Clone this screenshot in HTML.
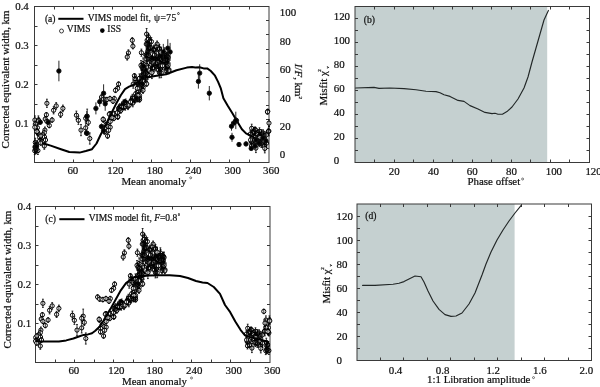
<!DOCTYPE html>
<html><head><meta charset="utf-8"><title>figure</title>
<style>
html,body{margin:0;padding:0;background:#fff;}
svg{display:block;font-family:"Liberation Serif",serif;fill:#111;}
svg text{fill:#111;stroke:#111;stroke-width:0.22px;}
svg{will-change:transform;transform:translateZ(0);}
</style></head><body>
<svg width="600" height="387" viewBox="0 0 600 387">
<rect width="600" height="387" fill="#fff"/>
<rect x="355.0" y="6.5" width="192.2" height="156.0" fill="#c5d0d0"/>
<rect x="357.0" y="204.0" width="157.6" height="156.5" fill="#c5d0d0"/>
<rect x="34.5" y="6.5" width="234.5" height="156.0" fill="none" stroke="#3a3a3a" stroke-width="1"/>
<line x1="54.50" y1="159.50" x2="54.50" y2="162.50" stroke="#3a3a3a" stroke-width="1"/>
<line x1="54.50" y1="6.50" x2="54.50" y2="9.50" stroke="#3a3a3a" stroke-width="1"/>
<line x1="73.50" y1="159.50" x2="73.50" y2="162.50" stroke="#3a3a3a" stroke-width="1"/>
<line x1="73.50" y1="6.50" x2="73.50" y2="9.50" stroke="#3a3a3a" stroke-width="1"/>
<line x1="93.50" y1="159.50" x2="93.50" y2="162.50" stroke="#3a3a3a" stroke-width="1"/>
<line x1="93.50" y1="6.50" x2="93.50" y2="9.50" stroke="#3a3a3a" stroke-width="1"/>
<line x1="112.50" y1="159.50" x2="112.50" y2="162.50" stroke="#3a3a3a" stroke-width="1"/>
<line x1="112.50" y1="6.50" x2="112.50" y2="9.50" stroke="#3a3a3a" stroke-width="1"/>
<line x1="132.50" y1="159.50" x2="132.50" y2="162.50" stroke="#3a3a3a" stroke-width="1"/>
<line x1="132.50" y1="6.50" x2="132.50" y2="9.50" stroke="#3a3a3a" stroke-width="1"/>
<line x1="151.50" y1="159.50" x2="151.50" y2="162.50" stroke="#3a3a3a" stroke-width="1"/>
<line x1="151.50" y1="6.50" x2="151.50" y2="9.50" stroke="#3a3a3a" stroke-width="1"/>
<line x1="171.50" y1="159.50" x2="171.50" y2="162.50" stroke="#3a3a3a" stroke-width="1"/>
<line x1="171.50" y1="6.50" x2="171.50" y2="9.50" stroke="#3a3a3a" stroke-width="1"/>
<line x1="190.50" y1="159.50" x2="190.50" y2="162.50" stroke="#3a3a3a" stroke-width="1"/>
<line x1="190.50" y1="6.50" x2="190.50" y2="9.50" stroke="#3a3a3a" stroke-width="1"/>
<line x1="210.50" y1="159.50" x2="210.50" y2="162.50" stroke="#3a3a3a" stroke-width="1"/>
<line x1="210.50" y1="6.50" x2="210.50" y2="9.50" stroke="#3a3a3a" stroke-width="1"/>
<line x1="229.50" y1="159.50" x2="229.50" y2="162.50" stroke="#3a3a3a" stroke-width="1"/>
<line x1="229.50" y1="6.50" x2="229.50" y2="9.50" stroke="#3a3a3a" stroke-width="1"/>
<line x1="249.50" y1="159.50" x2="249.50" y2="162.50" stroke="#3a3a3a" stroke-width="1"/>
<line x1="249.50" y1="6.50" x2="249.50" y2="9.50" stroke="#3a3a3a" stroke-width="1"/>
<line x1="34.50" y1="26.50" x2="37.50" y2="26.50" stroke="#3a3a3a" stroke-width="1"/>
<line x1="34.50" y1="45.50" x2="37.50" y2="45.50" stroke="#3a3a3a" stroke-width="1"/>
<line x1="34.50" y1="65.50" x2="37.50" y2="65.50" stroke="#3a3a3a" stroke-width="1"/>
<line x1="34.50" y1="84.50" x2="37.50" y2="84.50" stroke="#3a3a3a" stroke-width="1"/>
<line x1="34.50" y1="104.50" x2="37.50" y2="104.50" stroke="#3a3a3a" stroke-width="1"/>
<line x1="34.50" y1="123.50" x2="37.50" y2="123.50" stroke="#3a3a3a" stroke-width="1"/>
<line x1="34.50" y1="143.50" x2="37.50" y2="143.50" stroke="#3a3a3a" stroke-width="1"/>
<line x1="266.00" y1="20.50" x2="269.00" y2="20.50" stroke="#3a3a3a" stroke-width="1"/>
<line x1="266.00" y1="34.50" x2="269.00" y2="34.50" stroke="#3a3a3a" stroke-width="1"/>
<line x1="266.00" y1="49.50" x2="269.00" y2="49.50" stroke="#3a3a3a" stroke-width="1"/>
<line x1="266.00" y1="63.50" x2="269.00" y2="63.50" stroke="#3a3a3a" stroke-width="1"/>
<line x1="266.00" y1="77.50" x2="269.00" y2="77.50" stroke="#3a3a3a" stroke-width="1"/>
<line x1="266.00" y1="91.50" x2="269.00" y2="91.50" stroke="#3a3a3a" stroke-width="1"/>
<line x1="266.00" y1="105.50" x2="269.00" y2="105.50" stroke="#3a3a3a" stroke-width="1"/>
<line x1="266.00" y1="119.50" x2="269.00" y2="119.50" stroke="#3a3a3a" stroke-width="1"/>
<line x1="266.00" y1="134.50" x2="269.00" y2="134.50" stroke="#3a3a3a" stroke-width="1"/>
<line x1="266.00" y1="148.50" x2="269.00" y2="148.50" stroke="#3a3a3a" stroke-width="1"/>
<rect x="35.5" y="206.5" width="234.5" height="156.0" fill="none" stroke="#3a3a3a" stroke-width="1"/>
<line x1="55.50" y1="359.50" x2="55.50" y2="362.50" stroke="#3a3a3a" stroke-width="1"/>
<line x1="55.50" y1="206.50" x2="55.50" y2="209.50" stroke="#3a3a3a" stroke-width="1"/>
<line x1="74.50" y1="359.50" x2="74.50" y2="362.50" stroke="#3a3a3a" stroke-width="1"/>
<line x1="74.50" y1="206.50" x2="74.50" y2="209.50" stroke="#3a3a3a" stroke-width="1"/>
<line x1="94.50" y1="359.50" x2="94.50" y2="362.50" stroke="#3a3a3a" stroke-width="1"/>
<line x1="94.50" y1="206.50" x2="94.50" y2="209.50" stroke="#3a3a3a" stroke-width="1"/>
<line x1="113.50" y1="359.50" x2="113.50" y2="362.50" stroke="#3a3a3a" stroke-width="1"/>
<line x1="113.50" y1="206.50" x2="113.50" y2="209.50" stroke="#3a3a3a" stroke-width="1"/>
<line x1="133.50" y1="359.50" x2="133.50" y2="362.50" stroke="#3a3a3a" stroke-width="1"/>
<line x1="133.50" y1="206.50" x2="133.50" y2="209.50" stroke="#3a3a3a" stroke-width="1"/>
<line x1="152.50" y1="359.50" x2="152.50" y2="362.50" stroke="#3a3a3a" stroke-width="1"/>
<line x1="152.50" y1="206.50" x2="152.50" y2="209.50" stroke="#3a3a3a" stroke-width="1"/>
<line x1="172.50" y1="359.50" x2="172.50" y2="362.50" stroke="#3a3a3a" stroke-width="1"/>
<line x1="172.50" y1="206.50" x2="172.50" y2="209.50" stroke="#3a3a3a" stroke-width="1"/>
<line x1="191.50" y1="359.50" x2="191.50" y2="362.50" stroke="#3a3a3a" stroke-width="1"/>
<line x1="191.50" y1="206.50" x2="191.50" y2="209.50" stroke="#3a3a3a" stroke-width="1"/>
<line x1="211.50" y1="359.50" x2="211.50" y2="362.50" stroke="#3a3a3a" stroke-width="1"/>
<line x1="211.50" y1="206.50" x2="211.50" y2="209.50" stroke="#3a3a3a" stroke-width="1"/>
<line x1="230.50" y1="359.50" x2="230.50" y2="362.50" stroke="#3a3a3a" stroke-width="1"/>
<line x1="230.50" y1="206.50" x2="230.50" y2="209.50" stroke="#3a3a3a" stroke-width="1"/>
<line x1="250.50" y1="359.50" x2="250.50" y2="362.50" stroke="#3a3a3a" stroke-width="1"/>
<line x1="250.50" y1="206.50" x2="250.50" y2="209.50" stroke="#3a3a3a" stroke-width="1"/>
<line x1="35.50" y1="226.50" x2="38.50" y2="226.50" stroke="#3a3a3a" stroke-width="1"/>
<line x1="267.00" y1="226.50" x2="270.00" y2="226.50" stroke="#3a3a3a" stroke-width="1"/>
<line x1="35.50" y1="245.50" x2="38.50" y2="245.50" stroke="#3a3a3a" stroke-width="1"/>
<line x1="267.00" y1="245.50" x2="270.00" y2="245.50" stroke="#3a3a3a" stroke-width="1"/>
<line x1="35.50" y1="265.50" x2="38.50" y2="265.50" stroke="#3a3a3a" stroke-width="1"/>
<line x1="267.00" y1="265.50" x2="270.00" y2="265.50" stroke="#3a3a3a" stroke-width="1"/>
<line x1="35.50" y1="284.50" x2="38.50" y2="284.50" stroke="#3a3a3a" stroke-width="1"/>
<line x1="267.00" y1="284.50" x2="270.00" y2="284.50" stroke="#3a3a3a" stroke-width="1"/>
<line x1="35.50" y1="304.50" x2="38.50" y2="304.50" stroke="#3a3a3a" stroke-width="1"/>
<line x1="267.00" y1="304.50" x2="270.00" y2="304.50" stroke="#3a3a3a" stroke-width="1"/>
<line x1="35.50" y1="323.50" x2="38.50" y2="323.50" stroke="#3a3a3a" stroke-width="1"/>
<line x1="267.00" y1="323.50" x2="270.00" y2="323.50" stroke="#3a3a3a" stroke-width="1"/>
<line x1="35.50" y1="343.50" x2="38.50" y2="343.50" stroke="#3a3a3a" stroke-width="1"/>
<line x1="267.00" y1="343.50" x2="270.00" y2="343.50" stroke="#3a3a3a" stroke-width="1"/>
<rect x="355.0" y="6.5" width="234.5" height="156.0" fill="none" stroke="#3a3a3a" stroke-width="1"/>
<line x1="374.50" y1="159.50" x2="374.50" y2="162.50" stroke="#3a3a3a" stroke-width="1"/>
<line x1="374.50" y1="6.50" x2="374.50" y2="9.50" stroke="#3a3a3a" stroke-width="1"/>
<line x1="394.50" y1="159.50" x2="394.50" y2="162.50" stroke="#3a3a3a" stroke-width="1"/>
<line x1="394.50" y1="6.50" x2="394.50" y2="9.50" stroke="#3a3a3a" stroke-width="1"/>
<line x1="413.50" y1="159.50" x2="413.50" y2="162.50" stroke="#3a3a3a" stroke-width="1"/>
<line x1="413.50" y1="6.50" x2="413.50" y2="9.50" stroke="#3a3a3a" stroke-width="1"/>
<line x1="433.50" y1="159.50" x2="433.50" y2="162.50" stroke="#3a3a3a" stroke-width="1"/>
<line x1="433.50" y1="6.50" x2="433.50" y2="9.50" stroke="#3a3a3a" stroke-width="1"/>
<line x1="452.50" y1="159.50" x2="452.50" y2="162.50" stroke="#3a3a3a" stroke-width="1"/>
<line x1="452.50" y1="6.50" x2="452.50" y2="9.50" stroke="#3a3a3a" stroke-width="1"/>
<line x1="472.50" y1="159.50" x2="472.50" y2="162.50" stroke="#3a3a3a" stroke-width="1"/>
<line x1="472.50" y1="6.50" x2="472.50" y2="9.50" stroke="#3a3a3a" stroke-width="1"/>
<line x1="491.50" y1="159.50" x2="491.50" y2="162.50" stroke="#3a3a3a" stroke-width="1"/>
<line x1="491.50" y1="6.50" x2="491.50" y2="9.50" stroke="#3a3a3a" stroke-width="1"/>
<line x1="511.50" y1="159.50" x2="511.50" y2="162.50" stroke="#3a3a3a" stroke-width="1"/>
<line x1="511.50" y1="6.50" x2="511.50" y2="9.50" stroke="#3a3a3a" stroke-width="1"/>
<line x1="530.50" y1="159.50" x2="530.50" y2="162.50" stroke="#3a3a3a" stroke-width="1"/>
<line x1="530.50" y1="6.50" x2="530.50" y2="9.50" stroke="#3a3a3a" stroke-width="1"/>
<line x1="550.50" y1="159.50" x2="550.50" y2="162.50" stroke="#3a3a3a" stroke-width="1"/>
<line x1="550.50" y1="6.50" x2="550.50" y2="9.50" stroke="#3a3a3a" stroke-width="1"/>
<line x1="569.50" y1="159.50" x2="569.50" y2="162.50" stroke="#3a3a3a" stroke-width="1"/>
<line x1="569.50" y1="6.50" x2="569.50" y2="9.50" stroke="#3a3a3a" stroke-width="1"/>
<line x1="355.00" y1="150.50" x2="358.00" y2="150.50" stroke="#3a3a3a" stroke-width="1"/>
<line x1="586.50" y1="150.50" x2="589.50" y2="150.50" stroke="#3a3a3a" stroke-width="1"/>
<line x1="355.00" y1="138.50" x2="358.00" y2="138.50" stroke="#3a3a3a" stroke-width="1"/>
<line x1="586.50" y1="138.50" x2="589.50" y2="138.50" stroke="#3a3a3a" stroke-width="1"/>
<line x1="355.00" y1="126.50" x2="358.00" y2="126.50" stroke="#3a3a3a" stroke-width="1"/>
<line x1="586.50" y1="126.50" x2="589.50" y2="126.50" stroke="#3a3a3a" stroke-width="1"/>
<line x1="355.00" y1="114.50" x2="358.00" y2="114.50" stroke="#3a3a3a" stroke-width="1"/>
<line x1="586.50" y1="114.50" x2="589.50" y2="114.50" stroke="#3a3a3a" stroke-width="1"/>
<line x1="355.00" y1="102.50" x2="358.00" y2="102.50" stroke="#3a3a3a" stroke-width="1"/>
<line x1="586.50" y1="102.50" x2="589.50" y2="102.50" stroke="#3a3a3a" stroke-width="1"/>
<line x1="355.00" y1="90.50" x2="358.00" y2="90.50" stroke="#3a3a3a" stroke-width="1"/>
<line x1="586.50" y1="90.50" x2="589.50" y2="90.50" stroke="#3a3a3a" stroke-width="1"/>
<line x1="355.00" y1="78.50" x2="358.00" y2="78.50" stroke="#3a3a3a" stroke-width="1"/>
<line x1="586.50" y1="78.50" x2="589.50" y2="78.50" stroke="#3a3a3a" stroke-width="1"/>
<line x1="355.00" y1="66.50" x2="358.00" y2="66.50" stroke="#3a3a3a" stroke-width="1"/>
<line x1="586.50" y1="66.50" x2="589.50" y2="66.50" stroke="#3a3a3a" stroke-width="1"/>
<line x1="355.00" y1="54.50" x2="358.00" y2="54.50" stroke="#3a3a3a" stroke-width="1"/>
<line x1="586.50" y1="54.50" x2="589.50" y2="54.50" stroke="#3a3a3a" stroke-width="1"/>
<line x1="355.00" y1="42.50" x2="358.00" y2="42.50" stroke="#3a3a3a" stroke-width="1"/>
<line x1="586.50" y1="42.50" x2="589.50" y2="42.50" stroke="#3a3a3a" stroke-width="1"/>
<line x1="355.00" y1="30.50" x2="358.00" y2="30.50" stroke="#3a3a3a" stroke-width="1"/>
<line x1="586.50" y1="30.50" x2="589.50" y2="30.50" stroke="#3a3a3a" stroke-width="1"/>
<line x1="355.00" y1="18.50" x2="358.00" y2="18.50" stroke="#3a3a3a" stroke-width="1"/>
<line x1="586.50" y1="18.50" x2="589.50" y2="18.50" stroke="#3a3a3a" stroke-width="1"/>
<rect x="357.0" y="204.0" width="234.5" height="156.5" fill="none" stroke="#3a3a3a" stroke-width="1"/>
<line x1="380.50" y1="357.50" x2="380.50" y2="360.50" stroke="#3a3a3a" stroke-width="1"/>
<line x1="380.50" y1="204.00" x2="380.50" y2="207.00" stroke="#3a3a3a" stroke-width="1"/>
<line x1="403.50" y1="357.50" x2="403.50" y2="360.50" stroke="#3a3a3a" stroke-width="1"/>
<line x1="403.50" y1="204.00" x2="403.50" y2="207.00" stroke="#3a3a3a" stroke-width="1"/>
<line x1="427.50" y1="357.50" x2="427.50" y2="360.50" stroke="#3a3a3a" stroke-width="1"/>
<line x1="427.50" y1="204.00" x2="427.50" y2="207.00" stroke="#3a3a3a" stroke-width="1"/>
<line x1="450.50" y1="357.50" x2="450.50" y2="360.50" stroke="#3a3a3a" stroke-width="1"/>
<line x1="450.50" y1="204.00" x2="450.50" y2="207.00" stroke="#3a3a3a" stroke-width="1"/>
<line x1="474.50" y1="357.50" x2="474.50" y2="360.50" stroke="#3a3a3a" stroke-width="1"/>
<line x1="474.50" y1="204.00" x2="474.50" y2="207.00" stroke="#3a3a3a" stroke-width="1"/>
<line x1="497.50" y1="357.50" x2="497.50" y2="360.50" stroke="#3a3a3a" stroke-width="1"/>
<line x1="497.50" y1="204.00" x2="497.50" y2="207.00" stroke="#3a3a3a" stroke-width="1"/>
<line x1="521.50" y1="357.50" x2="521.50" y2="360.50" stroke="#3a3a3a" stroke-width="1"/>
<line x1="521.50" y1="204.00" x2="521.50" y2="207.00" stroke="#3a3a3a" stroke-width="1"/>
<line x1="544.50" y1="357.50" x2="544.50" y2="360.50" stroke="#3a3a3a" stroke-width="1"/>
<line x1="544.50" y1="204.00" x2="544.50" y2="207.00" stroke="#3a3a3a" stroke-width="1"/>
<line x1="568.50" y1="357.50" x2="568.50" y2="360.50" stroke="#3a3a3a" stroke-width="1"/>
<line x1="568.50" y1="204.00" x2="568.50" y2="207.00" stroke="#3a3a3a" stroke-width="1"/>
<line x1="357.00" y1="348.50" x2="360.00" y2="348.50" stroke="#3a3a3a" stroke-width="1"/>
<line x1="588.50" y1="348.50" x2="591.50" y2="348.50" stroke="#3a3a3a" stroke-width="1"/>
<line x1="357.00" y1="336.50" x2="360.00" y2="336.50" stroke="#3a3a3a" stroke-width="1"/>
<line x1="588.50" y1="336.50" x2="591.50" y2="336.50" stroke="#3a3a3a" stroke-width="1"/>
<line x1="357.00" y1="324.50" x2="360.00" y2="324.50" stroke="#3a3a3a" stroke-width="1"/>
<line x1="588.50" y1="324.50" x2="591.50" y2="324.50" stroke="#3a3a3a" stroke-width="1"/>
<line x1="357.00" y1="312.50" x2="360.00" y2="312.50" stroke="#3a3a3a" stroke-width="1"/>
<line x1="588.50" y1="312.50" x2="591.50" y2="312.50" stroke="#3a3a3a" stroke-width="1"/>
<line x1="357.00" y1="300.50" x2="360.00" y2="300.50" stroke="#3a3a3a" stroke-width="1"/>
<line x1="588.50" y1="300.50" x2="591.50" y2="300.50" stroke="#3a3a3a" stroke-width="1"/>
<line x1="357.00" y1="288.50" x2="360.00" y2="288.50" stroke="#3a3a3a" stroke-width="1"/>
<line x1="588.50" y1="288.50" x2="591.50" y2="288.50" stroke="#3a3a3a" stroke-width="1"/>
<line x1="357.00" y1="276.50" x2="360.00" y2="276.50" stroke="#3a3a3a" stroke-width="1"/>
<line x1="588.50" y1="276.50" x2="591.50" y2="276.50" stroke="#3a3a3a" stroke-width="1"/>
<line x1="357.00" y1="264.50" x2="360.00" y2="264.50" stroke="#3a3a3a" stroke-width="1"/>
<line x1="588.50" y1="264.50" x2="591.50" y2="264.50" stroke="#3a3a3a" stroke-width="1"/>
<line x1="357.00" y1="252.50" x2="360.00" y2="252.50" stroke="#3a3a3a" stroke-width="1"/>
<line x1="588.50" y1="252.50" x2="591.50" y2="252.50" stroke="#3a3a3a" stroke-width="1"/>
<line x1="357.00" y1="240.50" x2="360.00" y2="240.50" stroke="#3a3a3a" stroke-width="1"/>
<line x1="588.50" y1="240.50" x2="591.50" y2="240.50" stroke="#3a3a3a" stroke-width="1"/>
<line x1="357.00" y1="228.50" x2="360.00" y2="228.50" stroke="#3a3a3a" stroke-width="1"/>
<line x1="588.50" y1="228.50" x2="591.50" y2="228.50" stroke="#3a3a3a" stroke-width="1"/>
<line x1="357.00" y1="216.50" x2="360.00" y2="216.50" stroke="#3a3a3a" stroke-width="1"/>
<line x1="588.50" y1="216.50" x2="591.50" y2="216.50" stroke="#3a3a3a" stroke-width="1"/>
<text x="15.20" y="9.75" font-size="10.9" text-anchor="start" >0.4</text>
<text x="15.20" y="48.75" font-size="10.9" text-anchor="start" >0.3</text>
<text x="15.20" y="87.75" font-size="10.9" text-anchor="start" >0.2</text>
<text x="15.20" y="126.85" font-size="10.9" text-anchor="start" >0.1</text>
<text x="17.60" y="209.85" font-size="10.9" text-anchor="start" >0.4</text>
<text x="17.60" y="248.85" font-size="10.9" text-anchor="start" >0.3</text>
<text x="17.60" y="287.85" font-size="10.9" text-anchor="start" >0.2</text>
<text x="17.60" y="326.85" font-size="10.9" text-anchor="start" >0.1</text>
<text x="279.80" y="15.95" font-size="10.9" text-anchor="start" >100</text>
<text x="279.80" y="44.65" font-size="10.9" text-anchor="start" >80</text>
<text x="279.80" y="73.15" font-size="10.9" text-anchor="start" >60</text>
<text x="279.80" y="101.55" font-size="10.9" text-anchor="start" >40</text>
<text x="279.80" y="129.85" font-size="10.9" text-anchor="start" >20</text>
<text x="279.80" y="158.15" font-size="10.9" text-anchor="start" >0</text>
<text x="67.40" y="174.30" font-size="10.9" text-anchor="start" >60</text>
<text x="107.20" y="174.30" font-size="10.9" text-anchor="start" >120</text>
<text x="146.70" y="174.30" font-size="10.9" text-anchor="start" >180</text>
<text x="185.20" y="174.30" font-size="10.9" text-anchor="start" >240</text>
<text x="224.50" y="174.30" font-size="10.9" text-anchor="start" >300</text>
<text x="263.00" y="174.30" font-size="10.9" text-anchor="start" >360</text>
<text x="68.40" y="374.30" font-size="10.9" text-anchor="start" >60</text>
<text x="108.20" y="374.30" font-size="10.9" text-anchor="start" >120</text>
<text x="146.60" y="374.30" font-size="10.9" text-anchor="start" >180</text>
<text x="186.00" y="374.30" font-size="10.9" text-anchor="start" >240</text>
<text x="225.50" y="374.30" font-size="10.9" text-anchor="start" >300</text>
<text x="264.20" y="374.30" font-size="10.9" text-anchor="start" >360</text>
<text x="333.70" y="163.75" font-size="10.9" text-anchor="start" >0</text>
<text x="333.70" y="139.79" font-size="10.9" text-anchor="start" >20</text>
<text x="333.70" y="115.83" font-size="10.9" text-anchor="start" >40</text>
<text x="333.70" y="91.87" font-size="10.9" text-anchor="start" >60</text>
<text x="333.70" y="67.91" font-size="10.9" text-anchor="start" >80</text>
<text x="333.70" y="43.95" font-size="10.9" text-anchor="start" >100</text>
<text x="333.70" y="19.99" font-size="10.9" text-anchor="start" >120</text>
<text x="336.60" y="363.65" font-size="10.9" text-anchor="start" >0</text>
<text x="336.60" y="339.65" font-size="10.9" text-anchor="start" >20</text>
<text x="336.60" y="315.65" font-size="10.9" text-anchor="start" >40</text>
<text x="336.60" y="291.65" font-size="10.9" text-anchor="start" >60</text>
<text x="336.60" y="267.65" font-size="10.9" text-anchor="start" >80</text>
<text x="336.60" y="243.65" font-size="10.9" text-anchor="start" >100</text>
<text x="336.60" y="219.65" font-size="10.9" text-anchor="start" >120</text>
<text x="388.80" y="174.60" font-size="10.9" text-anchor="start" >20</text>
<text x="428.00" y="174.60" font-size="10.9" text-anchor="start" >40</text>
<text x="466.80" y="174.60" font-size="10.9" text-anchor="start" >60</text>
<text x="506.00" y="174.60" font-size="10.9" text-anchor="start" >80</text>
<text x="545.70" y="174.60" font-size="10.9" text-anchor="start" >100</text>
<text x="585.40" y="174.60" font-size="10.9" text-anchor="start" >120</text>
<text x="388.70" y="373.60" font-size="10.9" text-anchor="start" >0.4</text>
<text x="435.80" y="373.60" font-size="10.9" text-anchor="start" >0.8</text>
<text x="486.40" y="373.60" font-size="10.9" text-anchor="start" >1.2</text>
<text x="533.00" y="373.60" font-size="10.9" text-anchor="start" >1.6</text>
<text x="579.60" y="373.60" font-size="10.9" text-anchor="start" >2.0</text>
<text x="121.40" y="184.50" font-size="10.9" text-anchor="start" >Mean anomaly</text>
<circle cx="190.7" cy="177.8" r="1.0" fill="none" stroke="#222" stroke-width="0.6"/>
<text x="122.00" y="384.70" font-size="10.9" text-anchor="start" >Mean anomaly</text>
<circle cx="191.5" cy="378" r="1.0" fill="none" stroke="#222" stroke-width="0.6"/>
<text x="467.50" y="185.40" font-size="10.9" text-anchor="start" >Phase offset</text>
<circle cx="522.6" cy="179" r="1.0" fill="none" stroke="#222" stroke-width="0.6"/>
<text x="427.00" y="383.30" font-size="10.9" text-anchor="start" >1:1 Libration amplitude</text>
<circle cx="533.5" cy="377.6" r="1.0" fill="none" stroke="#222" stroke-width="0.6"/>
<text transform="translate(9.0,148.4) rotate(-90)" font-size="10.9" >Corrected equivalent width, km</text>
<text transform="translate(10.9,348.6) rotate(-90)" font-size="10.9" >Corrected equivalent width, km</text>
<text transform="translate(326.7,105.4) rotate(-90)" font-size="10.9" >Misfit &#967;<tspan font-size="5" dy="-6" dx="-0.5">2</tspan><tspan font-size="5" dy="8" dx="0.8" font-style="italic">&#957;</tspan></text>
<text transform="translate(329.5,303.5) rotate(-90)" font-size="10.9" >Misfit &#967;<tspan font-size="5" dy="-6" dx="-0.5">2</tspan><tspan font-size="5" dy="8" dx="0.8" font-style="italic">&#957;</tspan></text>
<text transform="translate(294.8,63.8) rotate(90)" font-size="10.9"><tspan font-style="italic">I</tspan>/<tspan font-style="italic">F</tspan>, km<tspan font-size="5" dy="-4">2</tspan></text>
<text x="44.90" y="21.50" font-size="9.6" text-anchor="start" >(a)</text>
<line x1="58.30" y1="18.80" x2="83.50" y2="18.80" stroke="#000" stroke-width="2"/>
<text x="87.70" y="20.80" font-size="9.5" text-anchor="start" >VIMS model fit, <tspan dx="0.8" letter-spacing="0.5">&#968;=75</tspan><tspan font-size="6" dy="-3.5" dx="0.5">&#176;</tspan></text>
<circle cx="61.5" cy="31" r="2" fill="none" stroke="#111" stroke-width="0.8"/>
<text x="66.80" y="32.40" font-size="9.5" text-anchor="start" >VIMS</text>
<circle cx="102.3" cy="30.6" r="2.3" fill="#000"/>
<text x="107.30" y="32.40" font-size="9.5" text-anchor="start" >ISS</text>
<text x="45.20" y="221.80" font-size="9.6" text-anchor="start" >(c)</text>
<line x1="59.30" y1="219.20" x2="84.50" y2="219.20" stroke="#000" stroke-width="2"/>
<text x="88.70" y="221.00" font-size="9.5" text-anchor="start" >VIMS model fit, <tspan font-style="italic">F</tspan>=0.8<tspan font-size="6" dy="-3.5" dx="0.5">&#176;</tspan></text>
<text x="363.70" y="22.70" font-size="9.6" text-anchor="start" >(b)</text>
<text x="365.20" y="219.20" font-size="9.6" text-anchor="start" >(d)</text>
<path d="M355.6,88.0 L374.0,87.4 L379.0,88.4 L390.0,88.0 L404.0,88.6 L416.0,89.8 L426.0,91.2 L436.0,91.6 L440.0,92.8 L444.0,94.8 L450.0,96.4 L458.0,100.4 L464.0,101.4 L470.0,105.6 L478.0,109.0 L485.0,112.4 L492.0,113.6 L495.0,113.2 L498.0,114.2 L502.4,114.2 L507.0,111.6 L512.0,107.0 L518.0,99.0 L524.0,88.0 L528.0,77.0 L532.0,62.0 L536.0,48.0 L540.0,34.0 L544.0,20.0 L548.4,10.4" fill="none" stroke="#222727" stroke-width="1.15" stroke-linejoin="round" stroke-linecap="round"/>
<path d="M362.6,285.4 L375.0,285.4 L393.0,284.2 L399.0,283.2 L404.0,281.6 L410.0,278.4 L415.0,276.0 L421.0,276.8 L424.0,282.0 L428.0,291.0 L433.0,301.0 L439.0,309.4 L445.0,314.6 L451.0,316.4 L456.0,316.0 L462.0,313.0 L469.0,304.0 L475.0,293.0 L482.0,275.0 L486.0,264.0 L491.0,252.0 L497.0,240.0 L503.0,230.0 L509.0,221.0 L515.0,213.0 L521.0,205.6" fill="none" stroke="#222727" stroke-width="1.15" stroke-linejoin="round" stroke-linecap="round"/>
<g fill="#fff" stroke="#000" stroke-width="1">
<g transform="translate(42.9,303.3)"><circle r="2.1"/><path d="M0,-4.1V4.1M-0.9,-4.1H0.9M-0.9,4.1H0.9" stroke-width="0.8"/></g>
<g transform="translate(52.2,305.9)"><circle r="2.1"/><path d="M0,-3.3V3.3M-0.9,-3.3H0.9M-0.9,3.3H0.9" stroke-width="0.8"/></g>
<g transform="translate(49.6,310.3)"><circle r="2.1"/><path d="M0,-3.6V3.6M-0.9,-3.6H0.9M-0.9,3.6H0.9" stroke-width="0.8"/></g>
<g transform="translate(58.9,308.4)"><circle r="2.1"/><path d="M0,-3.3V3.3M-0.9,-3.3H0.9M-0.9,3.3H0.9" stroke-width="0.8"/></g>
<g transform="translate(56.6,314.4)"><circle r="2.1"/><path d="M0,-3.1V3.1M-0.9,-3.1H0.9M-0.9,3.1H0.9" stroke-width="0.8"/></g>
<g transform="translate(42.4,314.8)"><circle r="2.1"/><path d="M0,-2.3V2.3M-0.9,-2.3H0.9M-0.9,2.3H0.9" stroke-width="0.8"/></g>
<g transform="translate(41.2,319.0)"><circle r="2.1"/><path d="M0,-2.3V2.3M-0.9,-2.3H0.9M-0.9,2.3H0.9" stroke-width="0.8"/></g>
<g transform="translate(48.1,320.0)"><circle r="2.1"/><path d="M0,-2.3V2.3M-0.9,-2.3H0.9M-0.9,2.3H0.9" stroke-width="0.8"/></g>
<g transform="translate(42.9,321.4)"><circle r="2.1"/><path d="M0,-2.3V2.3M-0.9,-2.3H0.9M-0.9,2.3H0.9" stroke-width="0.8"/></g>
<g transform="translate(45.3,325.5)"><circle r="2.1"/><path d="M0,-2.3V2.3M-0.9,-2.3H0.9M-0.9,2.3H0.9" stroke-width="0.8"/></g>
<g transform="translate(40.9,330.1)"><circle r="2.1"/><path d="M0,-3.1V3.1M-0.9,-3.1H0.9M-0.9,3.1H0.9" stroke-width="0.8"/></g>
<g transform="translate(40.3,332.7)"><circle r="2.1"/><path d="M0,-2.6V2.6M-0.9,-2.6H0.9M-0.9,2.6H0.9" stroke-width="0.8"/></g>
<g transform="translate(38.8,334.9)"><circle r="2.1"/><path d="M0,-2.6V2.6M-0.9,-2.6H0.9M-0.9,2.6H0.9" stroke-width="0.8"/></g>
<g transform="translate(40.3,346.0)"><circle r="2.1"/><path d="M0,-3.3V3.3M-0.9,-3.3H0.9M-0.9,3.3H0.9" stroke-width="0.8"/></g>
<g transform="translate(35.7,337.5)"><circle r="2.1"/><path d="M0,-2.3V2.3M-0.9,-2.3H0.9M-0.9,2.3H0.9" stroke-width="0.8"/></g>
<g transform="translate(37.8,338.5)"><circle r="2.1"/><path d="M0,-2.3V2.3M-0.9,-2.3H0.9M-0.9,2.3H0.9" stroke-width="0.8"/></g>
<g transform="translate(36.2,340.6)"><circle r="2.1"/><path d="M0,-2.3V2.3M-0.9,-2.3H0.9M-0.9,2.3H0.9" stroke-width="0.8"/></g>
<g transform="translate(39.3,339.0)"><circle r="2.1"/><path d="M0,-2.3V2.3M-0.9,-2.3H0.9M-0.9,2.3H0.9" stroke-width="0.8"/></g>
<g transform="translate(35.6,341.1)"><circle r="2.1"/><path d="M0,-2.3V2.3M-0.9,-2.3H0.9M-0.9,2.3H0.9" stroke-width="0.8"/></g>
<g transform="translate(37.0,336.0)"><circle r="2.1"/><path d="M0,-2.3V2.3M-0.9,-2.3H0.9M-0.9,2.3H0.9" stroke-width="0.8"/></g>
<g transform="translate(38.5,341.5)"><circle r="2.1"/><path d="M0,-2.3V2.3M-0.9,-2.3H0.9M-0.9,2.3H0.9" stroke-width="0.8"/></g>
<g transform="translate(36.8,343.0)"><circle r="2.1"/><path d="M0,-2.3V2.3M-0.9,-2.3H0.9M-0.9,2.3H0.9" stroke-width="0.8"/></g>
<g transform="translate(40.5,337.0)"><circle r="2.1"/><path d="M0,-2.3V2.3M-0.9,-2.3H0.9M-0.9,2.3H0.9" stroke-width="0.8"/></g>
<g transform="translate(41.5,340.0)"><circle r="2.1"/><path d="M0,-2.3V2.3M-0.9,-2.3H0.9M-0.9,2.3H0.9" stroke-width="0.8"/></g>
<g transform="translate(72.4,315.2)"><circle r="2.1"/><path d="M0,-4.1V4.1M-0.9,-4.1H0.9M-0.9,4.1H0.9" stroke-width="0.8"/></g>
<g transform="translate(74.4,320.3)"><circle r="2.1"/><path d="M0,-4.1V4.1M-0.9,-4.1H0.9M-0.9,4.1H0.9" stroke-width="0.8"/></g>
<g transform="translate(83.2,316.2)"><circle r="2.1"/><path d="M0,-7.1V7.1M-0.9,-7.1H0.9M-0.9,7.1H0.9" stroke-width="0.8"/></g>
<g transform="translate(81.7,318.3)"><circle r="2.1"/><path d="M0,-3.1V3.1M-0.9,-3.1H0.9M-0.9,3.1H0.9" stroke-width="0.8"/></g>
<g transform="translate(84.3,322.4)"><circle r="2.1"/><path d="M0,-3.1V3.1M-0.9,-3.1H0.9M-0.9,3.1H0.9" stroke-width="0.8"/></g>
<g transform="translate(81.7,327.9)"><circle r="2.1"/><path d="M0,-5.1V5.1M-0.9,-5.1H0.9M-0.9,5.1H0.9" stroke-width="0.8"/></g>
<g transform="translate(77.0,330.1)"><circle r="2.1"/><path d="M0,-5.6V5.6M-0.9,-5.6H0.9M-0.9,5.6H0.9" stroke-width="0.8"/></g>
<g transform="translate(85.8,338.5)"><circle r="2.1"/><path d="M0,-5.6V5.6M-0.9,-5.6H0.9M-0.9,5.6H0.9" stroke-width="0.8"/></g>
<g transform="translate(97.6,297.0)"><circle r="2.1"/><path d="M0,-2.3V2.3M-0.9,-2.3H0.9M-0.9,2.3H0.9" stroke-width="0.8"/></g>
<g transform="translate(99.7,299.1)"><circle r="2.1"/><path d="M0,-2.3V2.3M-0.9,-2.3H0.9M-0.9,2.3H0.9" stroke-width="0.8"/></g>
<g transform="translate(102.8,299.6)"><circle r="2.1"/><path d="M0,-2.3V2.3M-0.9,-2.3H0.9M-0.9,2.3H0.9" stroke-width="0.8"/></g>
<g transform="translate(105.9,298.6)"><circle r="2.1"/><path d="M0,-2.3V2.3M-0.9,-2.3H0.9M-0.9,2.3H0.9" stroke-width="0.8"/></g>
<g transform="translate(110.3,298.6)"><circle r="2.1"/><path d="M0,-2.3V2.3M-0.9,-2.3H0.9M-0.9,2.3H0.9" stroke-width="0.8"/></g>
<g transform="translate(109.0,301.2)"><circle r="2.1"/><path d="M0,-2.3V2.3M-0.9,-2.3H0.9M-0.9,2.3H0.9" stroke-width="0.8"/></g>
<g transform="translate(114.6,284.1)"><circle r="2.1"/><path d="M0,-2.3V2.3M-0.9,-2.3H0.9M-0.9,2.3H0.9" stroke-width="0.8"/></g>
<g transform="translate(113.6,288.3)"><circle r="2.1"/><path d="M0,-2.3V2.3M-0.9,-2.3H0.9M-0.9,2.3H0.9" stroke-width="0.8"/></g>
<g transform="translate(111.5,290.3)"><circle r="2.1"/><path d="M0,-2.3V2.3M-0.9,-2.3H0.9M-0.9,2.3H0.9" stroke-width="0.8"/></g>
<g transform="translate(99.5,320.0)"><circle r="2.1"/><path d="M0,-2.3V2.3M-0.9,-2.3H0.9M-0.9,2.3H0.9" stroke-width="0.8"/></g>
<g transform="translate(106.2,313.8)"><circle r="2.1"/><path d="M0,-2.3V2.3M-0.9,-2.3H0.9M-0.9,2.3H0.9" stroke-width="0.8"/></g>
<g transform="translate(110.8,314.8)"><circle r="2.1"/><path d="M0,-2.3V2.3M-0.9,-2.3H0.9M-0.9,2.3H0.9" stroke-width="0.8"/></g>
<g transform="translate(113.9,316.9)"><circle r="2.1"/><path d="M0,-2.3V2.3M-0.9,-2.3H0.9M-0.9,2.3H0.9" stroke-width="0.8"/></g>
<g transform="translate(109.8,318.4)"><circle r="2.1"/><path d="M0,-2.3V2.3M-0.9,-2.3H0.9M-0.9,2.3H0.9" stroke-width="0.8"/></g>
<g transform="translate(106.2,321.5)"><circle r="2.1"/><path d="M0,-2.3V2.3M-0.9,-2.3H0.9M-0.9,2.3H0.9" stroke-width="0.8"/></g>
<g transform="translate(102.1,324.6)"><circle r="2.1"/><path d="M0,-2.3V2.3M-0.9,-2.3H0.9M-0.9,2.3H0.9" stroke-width="0.8"/></g>
<g transform="translate(104.1,326.7)"><circle r="2.1"/><path d="M0,-2.3V2.3M-0.9,-2.3H0.9M-0.9,2.3H0.9" stroke-width="0.8"/></g>
<g transform="translate(100.5,328.3)"><circle r="2.1"/><path d="M0,-2.3V2.3M-0.9,-2.3H0.9M-0.9,2.3H0.9" stroke-width="0.8"/></g>
<g transform="translate(106.2,327.2)"><circle r="2.1"/><path d="M0,-2.3V2.3M-0.9,-2.3H0.9M-0.9,2.3H0.9" stroke-width="0.8"/></g>
<g transform="translate(104.6,330.3)"><circle r="2.1"/><path d="M0,-2.3V2.3M-0.9,-2.3H0.9M-0.9,2.3H0.9" stroke-width="0.8"/></g>
<g transform="translate(100.5,331.9)"><circle r="2.1"/><path d="M0,-2.3V2.3M-0.9,-2.3H0.9M-0.9,2.3H0.9" stroke-width="0.8"/></g>
<g transform="translate(103.6,336.0)"><circle r="2.1"/><path d="M0,-2.3V2.3M-0.9,-2.3H0.9M-0.9,2.3H0.9" stroke-width="0.8"/></g>
<g transform="translate(105.3,314.1)"><circle r="2.1"/><path d="M0,-2.3V2.3M-0.9,-2.3H0.9M-0.9,2.3H0.9" stroke-width="0.8"/></g>
<g transform="translate(110.5,313.6)"><circle r="2.1"/><path d="M0,-2.3V2.3M-0.9,-2.3H0.9M-0.9,2.3H0.9" stroke-width="0.8"/></g>
<g transform="translate(113.6,316.7)"><circle r="2.1"/><path d="M0,-2.3V2.3M-0.9,-2.3H0.9M-0.9,2.3H0.9" stroke-width="0.8"/></g>
<g transform="translate(107.9,317.7)"><circle r="2.1"/><path d="M0,-2.3V2.3M-0.9,-2.3H0.9M-0.9,2.3H0.9" stroke-width="0.8"/></g>
<g transform="translate(99.1,319.3)"><circle r="2.1"/><path d="M0,-2.3V2.3M-0.9,-2.3H0.9M-0.9,2.3H0.9" stroke-width="0.8"/></g>
<g transform="translate(128.3,240.3)"><circle r="2.1"/><path d="M0,-2.7V2.7M-0.9,-2.7H0.9M-0.9,2.7H0.9" stroke-width="0.8"/></g>
<g transform="translate(128.9,246.2)"><circle r="2.1"/><path d="M0,-2.7V2.7M-0.9,-2.7H0.9M-0.9,2.7H0.9" stroke-width="0.8"/></g>
<g transform="translate(124.4,252.9)"><circle r="2.1"/><path d="M0,-3.1V3.1M-0.9,-3.1H0.9M-0.9,3.1H0.9" stroke-width="0.8"/></g>
<g transform="translate(123.2,257.0)"><circle r="2.1"/><path d="M0,-3.1V3.1M-0.9,-3.1H0.9M-0.9,3.1H0.9" stroke-width="0.8"/></g>
<g transform="translate(137.4,252.7)"><circle r="2.1"/><path d="M0,-3.6V3.6M-0.9,-3.6H0.9M-0.9,3.6H0.9" stroke-width="0.8"/></g>
<g transform="translate(130.4,275.8)"><circle r="2.1"/><path d="M0,-2.3V2.3M-0.9,-2.3H0.9M-0.9,2.3H0.9" stroke-width="0.8"/></g>
<g transform="translate(142.6,234.1)"><circle r="2.1"/><path d="M0,-5.6V5.6M-0.9,-5.6H0.9M-0.9,5.6H0.9" stroke-width="0.8"/></g>
<g transform="translate(144.4,236.9)"><circle r="2.1"/><path d="M0,-3.1V3.1M-0.9,-3.1H0.9M-0.9,3.1H0.9" stroke-width="0.8"/></g>
<g transform="translate(145.7,240.5)"><circle r="2.1"/><path d="M0,-3.1V3.1M-0.9,-3.1H0.9M-0.9,3.1H0.9" stroke-width="0.8"/></g>
<g transform="translate(142.3,244.1)"><circle r="2.1"/><path d="M0,-3.1V3.1M-0.9,-3.1H0.9M-0.9,3.1H0.9" stroke-width="0.8"/></g>
<g transform="translate(146.7,247.9)"><circle r="2.1"/><path d="M0,-3.1V3.1M-0.9,-3.1H0.9M-0.9,3.1H0.9" stroke-width="0.8"/></g>
<g transform="translate(141.8,255.0)"><circle r="2.1"/><path d="M0,-3.1V3.1M-0.9,-3.1H0.9M-0.9,3.1H0.9" stroke-width="0.8"/></g>
<g transform="translate(143.8,250.8)"><circle r="2.1"/><path d="M0,-3.1V3.1M-0.9,-3.1H0.9M-0.9,3.1H0.9" stroke-width="0.8"/></g>
<g transform="translate(153.1,244.1)"><circle r="2.1"/><path d="M0,-3.1V3.1M-0.9,-3.1H0.9M-0.9,3.1H0.9" stroke-width="0.8"/></g>
<g transform="translate(152.1,247.2)"><circle r="2.1"/><path d="M0,-3.1V3.1M-0.9,-3.1H0.9M-0.9,3.1H0.9" stroke-width="0.8"/></g>
<g transform="translate(155.2,248.8)"><circle r="2.1"/><path d="M0,-3.1V3.1M-0.9,-3.1H0.9M-0.9,3.1H0.9" stroke-width="0.8"/></g>
<g transform="translate(155.7,252.1)"><circle r="2.1"/><path d="M0,-3.1V3.1M-0.9,-3.1H0.9M-0.9,3.1H0.9" stroke-width="0.8"/></g>
<g transform="translate(160.4,252.9)"><circle r="2.1"/><path d="M0,-5.1V5.1M-0.9,-5.1H0.9M-0.9,5.1H0.9" stroke-width="0.8"/></g>
<g transform="translate(158.8,256.0)"><circle r="2.1"/><path d="M0,-3.1V3.1M-0.9,-3.1H0.9M-0.9,3.1H0.9" stroke-width="0.8"/></g>
<g transform="translate(163.0,255.8)"><circle r="2.1"/><path d="M0,-3.1V3.1M-0.9,-3.1H0.9M-0.9,3.1H0.9" stroke-width="0.8"/></g>
<g transform="translate(152.6,256.0)"><circle r="2.1"/><path d="M0,-3.1V3.1M-0.9,-3.1H0.9M-0.9,3.1H0.9" stroke-width="0.8"/></g>
<g transform="translate(156.8,259.6)"><circle r="2.1"/><path d="M0,-3.1V3.1M-0.9,-3.1H0.9M-0.9,3.1H0.9" stroke-width="0.8"/></g>
<g transform="translate(160.9,260.1)"><circle r="2.1"/><path d="M0,-3.1V3.1M-0.9,-3.1H0.9M-0.9,3.1H0.9" stroke-width="0.8"/></g>
<g transform="translate(163.5,266.5)"><circle r="2.1"/><path d="M0,-3.1V3.1M-0.9,-3.1H0.9M-0.9,3.1H0.9" stroke-width="0.8"/></g>
<g transform="translate(162.0,270.7)"><circle r="2.1"/><path d="M0,-3.1V3.1M-0.9,-3.1H0.9M-0.9,3.1H0.9" stroke-width="0.8"/></g>
<g transform="translate(263.8,311.4)"><circle r="2.1"/><path d="M0,-2.3V2.3M-0.9,-2.3H0.9M-0.9,2.3H0.9" stroke-width="0.8"/></g>
<g transform="translate(265.9,320.0)"><circle r="2.1"/><path d="M0,-4.1V4.1M-0.9,-4.1H0.9M-0.9,4.1H0.9" stroke-width="0.8"/></g>
<g transform="translate(269.4,320.0)"><circle r="2.1"/><path d="M0,-4.1V4.1M-0.9,-4.1H0.9M-0.9,4.1H0.9" stroke-width="0.8"/></g>
<g transform="translate(266.3,324.1)"><circle r="2.1"/><path d="M0,-3.1V3.1M-0.9,-3.1H0.9M-0.9,3.1H0.9" stroke-width="0.8"/></g>
<g transform="translate(268.4,327.7)"><circle r="2.1"/><path d="M0,-3.1V3.1M-0.9,-3.1H0.9M-0.9,3.1H0.9" stroke-width="0.8"/></g>
<g transform="translate(265.8,327.2)"><circle r="2.1"/><path d="M0,-3.1V3.1M-0.9,-3.1H0.9M-0.9,3.1H0.9" stroke-width="0.8"/></g>
<g transform="translate(268.9,332.9)"><circle r="2.1"/><path d="M0,-3.1V3.1M-0.9,-3.1H0.9M-0.9,3.1H0.9" stroke-width="0.8"/></g>
<g transform="translate(264.3,331.4)"><circle r="2.1"/><path d="M0,-3.1V3.1M-0.9,-3.1H0.9M-0.9,3.1H0.9" stroke-width="0.8"/></g>
<g transform="translate(247.7,328.3)"><circle r="2.1"/><path d="M0,-4.1V4.1M-0.9,-4.1H0.9M-0.9,4.1H0.9" stroke-width="0.8"/></g>
<g transform="translate(250.3,331.9)"><circle r="2.1"/><path d="M0,-3.1V3.1M-0.9,-3.1H0.9M-0.9,3.1H0.9" stroke-width="0.8"/></g>
<g transform="translate(251.4,337.0)"><circle r="2.1"/><path d="M0,-3.1V3.1M-0.9,-3.1H0.9M-0.9,3.1H0.9" stroke-width="0.8"/></g>
<g transform="translate(247.2,341.7)"><circle r="2.1"/><path d="M0,-3.1V3.1M-0.9,-3.1H0.9M-0.9,3.1H0.9" stroke-width="0.8"/></g>
<g transform="translate(255.0,334.0)"><circle r="2.1"/><path d="M0,-3.1V3.1M-0.9,-3.1H0.9M-0.9,3.1H0.9" stroke-width="0.8"/></g>
<g transform="translate(259.1,332.9)"><circle r="2.1"/><path d="M0,-3.1V3.1M-0.9,-3.1H0.9M-0.9,3.1H0.9" stroke-width="0.8"/></g>
<g transform="translate(256.0,337.0)"><circle r="2.1"/><path d="M0,-3.1V3.1M-0.9,-3.1H0.9M-0.9,3.1H0.9" stroke-width="0.8"/></g>
<g transform="translate(260.1,336.5)"><circle r="2.1"/><path d="M0,-3.1V3.1M-0.9,-3.1H0.9M-0.9,3.1H0.9" stroke-width="0.8"/></g>
<g transform="translate(262.2,335.0)"><circle r="2.1"/><path d="M0,-3.1V3.1M-0.9,-3.1H0.9M-0.9,3.1H0.9" stroke-width="0.8"/></g>
<g transform="translate(119.5,302.9)"><circle r="2.1" fill="none"/><path d="M0,-3.0V3.0M-0.9,-3.0H0.9M-0.9,3.0H0.9" stroke-width="0.8"/></g>
<g transform="translate(124.0,306.4)"><circle r="2.1" fill="none"/><path d="M0,-3.2V3.2M-0.9,-3.2H0.9M-0.9,3.2H0.9" stroke-width="0.8"/></g>
<g transform="translate(114.6,308.3)"><circle r="2.1" fill="none"/><path d="M0,-3.5V3.5M-0.9,-3.5H0.9M-0.9,3.5H0.9" stroke-width="0.8"/></g>
<g transform="translate(115.8,307.0)"><circle r="2.1" fill="none"/><path d="M0,-3.3V3.3M-0.9,-3.3H0.9M-0.9,3.3H0.9" stroke-width="0.8"/></g>
<g transform="translate(116.8,307.2)"><circle r="2.1"/><path d="M0,-2.4V2.4M-0.9,-2.4H0.9M-0.9,2.4H0.9" stroke-width="0.8"/></g>
<g transform="translate(118.2,306.8)"><circle r="2.1" fill="none"/><path d="M0,-3.0V3.0M-0.9,-3.0H0.9M-0.9,3.0H0.9" stroke-width="0.8"/></g>
<g transform="translate(121.7,302.3)"><circle r="2.1" fill="none"/><path d="M0,-3.3V3.3M-0.9,-3.3H0.9M-0.9,3.3H0.9" stroke-width="0.8"/></g>
<g transform="translate(120.6,305.9)"><circle r="2.1" fill="none"/><path d="M0,-3.6V3.6M-0.9,-3.6H0.9M-0.9,3.6H0.9" stroke-width="0.8"/></g>
<g transform="translate(118.8,307.7)"><circle r="2.1" fill="none"/><path d="M0,-2.4V2.4M-0.9,-2.4H0.9M-0.9,2.4H0.9" stroke-width="0.8"/></g>
<g transform="translate(120.7,303.3)"><circle r="2.1" fill="none"/><path d="M0,-3.7V3.7M-0.9,-3.7H0.9M-0.9,3.7H0.9" stroke-width="0.8"/></g>
<g transform="translate(113.4,312.9)"><circle r="2.1" fill="none"/><path d="M0,-3.0V3.0M-0.9,-3.0H0.9M-0.9,3.0H0.9" stroke-width="0.8"/></g>
<g transform="translate(121.2,306.7)"><circle r="2.1"/><path d="M0,-3.5V3.5M-0.9,-3.5H0.9M-0.9,3.5H0.9" stroke-width="0.8"/></g>
<g transform="translate(113.5,312.5)"><circle r="2.1"/><path d="M0,-3.4V3.4M-0.9,-3.4H0.9M-0.9,3.4H0.9" stroke-width="0.8"/></g>
<g transform="translate(117.7,306.8)"><circle r="2.1"/><path d="M0,-3.5V3.5M-0.9,-3.5H0.9M-0.9,3.5H0.9" stroke-width="0.8"/></g>
<g transform="translate(122.6,304.6)"><circle r="2.1"/><path d="M0,-3.4V3.4M-0.9,-3.4H0.9M-0.9,3.4H0.9" stroke-width="0.8"/></g>
<g transform="translate(125.2,305.1)"><circle r="2.1"/><path d="M0,-2.6V2.6M-0.9,-2.6H0.9M-0.9,2.6H0.9" stroke-width="0.8"/></g>
<g transform="translate(130.7,299.4)"><circle r="2.1"/><path d="M0,-3.6V3.6M-0.9,-3.6H0.9M-0.9,3.6H0.9" stroke-width="0.8"/></g>
<g transform="translate(120.8,302.6)"><circle r="2.1" fill="none"/><path d="M0,-2.5V2.5M-0.9,-2.5H0.9M-0.9,2.5H0.9" stroke-width="0.8"/></g>
<g transform="translate(116.8,310.5)"><circle r="2.1"/><path d="M0,-2.8V2.8M-0.9,-2.8H0.9M-0.9,2.8H0.9" stroke-width="0.8"/></g>
<g transform="translate(115.2,309.1)"><circle r="2.1" fill="none"/><path d="M0,-2.7V2.7M-0.9,-2.7H0.9M-0.9,2.7H0.9" stroke-width="0.8"/></g>
<g transform="translate(117.8,307.1)"><circle r="2.1" fill="none"/><path d="M0,-3.0V3.0M-0.9,-3.0H0.9M-0.9,3.0H0.9" stroke-width="0.8"/></g>
<g transform="translate(128.8,303.1)"><circle r="2.1" fill="none"/><path d="M0,-3.7V3.7M-0.9,-3.7H0.9M-0.9,3.7H0.9" stroke-width="0.8"/></g>
<g transform="translate(131.2,298.4)"><circle r="2.1"/><path d="M0,-4.2V4.2M-0.9,-4.2H0.9M-0.9,4.2H0.9" stroke-width="0.8"/></g>
<g transform="translate(141.5,281.8)"><circle r="2.1"/><path d="M0,-3.1V3.1M-0.9,-3.1H0.9M-0.9,3.1H0.9" stroke-width="0.8"/></g>
<g transform="translate(128.4,298.0)"><circle r="2.1"/><path d="M0,-3.7V3.7M-0.9,-3.7H0.9M-0.9,3.7H0.9" stroke-width="0.8"/></g>
<g transform="translate(137.7,284.8)"><circle r="2.1" fill="none"/><path d="M0,-2.7V2.7M-0.9,-2.7H0.9M-0.9,2.7H0.9" stroke-width="0.8"/></g>
<g transform="translate(128.2,300.7)"><circle r="2.1" fill="none"/><path d="M0,-4.0V4.0M-0.9,-4.0H0.9M-0.9,4.0H0.9" stroke-width="0.8"/></g>
<g transform="translate(131.6,293.8)"><circle r="2.1"/><path d="M0,-2.3V2.3M-0.9,-2.3H0.9M-0.9,2.3H0.9" stroke-width="0.8"/></g>
<g transform="translate(133.9,292.4)"><circle r="2.1" fill="none"/><path d="M0,-3.0V3.0M-0.9,-3.0H0.9M-0.9,3.0H0.9" stroke-width="0.8"/></g>
<g transform="translate(127.2,300.4)"><circle r="2.1" fill="none"/><path d="M0,-4.3V4.3M-0.9,-4.3H0.9M-0.9,4.3H0.9" stroke-width="0.8"/></g>
<g transform="translate(136.1,287.3)"><circle r="2.1"/><path d="M0,-2.4V2.4M-0.9,-2.4H0.9M-0.9,2.4H0.9" stroke-width="0.8"/></g>
<g transform="translate(138.8,279.1)"><circle r="2.1" fill="none"/><path d="M0,-2.3V2.3M-0.9,-2.3H0.9M-0.9,2.3H0.9" stroke-width="0.8"/></g>
<g transform="translate(133.6,289.4)"><circle r="2.1"/><path d="M0,-4.3V4.3M-0.9,-4.3H0.9M-0.9,4.3H0.9" stroke-width="0.8"/></g>
<g transform="translate(134.4,285.6)"><circle r="2.1" fill="none"/><path d="M0,-3.8V3.8M-0.9,-3.8H0.9M-0.9,3.8H0.9" stroke-width="0.8"/></g>
<g transform="translate(139.1,285.3)"><circle r="2.1" fill="none"/><path d="M0,-3.7V3.7M-0.9,-3.7H0.9M-0.9,3.7H0.9" stroke-width="0.8"/></g>
<g transform="translate(137.4,287.0)"><circle r="2.1" fill="none"/><path d="M0,-4.0V4.0M-0.9,-4.0H0.9M-0.9,4.0H0.9" stroke-width="0.8"/></g>
<g transform="translate(134.6,291.0)"><circle r="2.1"/><path d="M0,-3.5V3.5M-0.9,-3.5H0.9M-0.9,3.5H0.9" stroke-width="0.8"/></g>
<g transform="translate(138.4,288.6)"><circle r="2.1" fill="none"/><path d="M0,-3.8V3.8M-0.9,-3.8H0.9M-0.9,3.8H0.9" stroke-width="0.8"/></g>
<g transform="translate(136.2,286.1)"><circle r="2.1"/><path d="M0,-4.0V4.0M-0.9,-4.0H0.9M-0.9,4.0H0.9" stroke-width="0.8"/></g>
<g transform="translate(139.1,287.6)"><circle r="2.1"/><path d="M0,-3.3V3.3M-0.9,-3.3H0.9M-0.9,3.3H0.9" stroke-width="0.8"/></g>
<g transform="translate(135.1,287.9)"><circle r="2.1"/><path d="M0,-4.1V4.1M-0.9,-4.1H0.9M-0.9,4.1H0.9" stroke-width="0.8"/></g>
<g transform="translate(126.6,302.0)"><circle r="2.1"/><path d="M0,-2.7V2.7M-0.9,-2.7H0.9M-0.9,2.7H0.9" stroke-width="0.8"/></g>
<g transform="translate(135.5,297.9)"><circle r="2.1" fill="none"/><path d="M0,-2.6V2.6M-0.9,-2.6H0.9M-0.9,2.6H0.9" stroke-width="0.8"/></g>
<g transform="translate(135.5,295.5)"><circle r="2.1" fill="none"/><path d="M0,-2.6V2.6M-0.9,-2.6H0.9M-0.9,2.6H0.9" stroke-width="0.8"/></g>
<g transform="translate(132.0,296.2)"><circle r="2.1" fill="none"/><path d="M0,-2.6V2.6M-0.9,-2.6H0.9M-0.9,2.6H0.9" stroke-width="0.8"/></g>
<g transform="translate(135.6,299.6)"><circle r="2.1" fill="none"/><path d="M0,-2.6V2.6M-0.9,-2.6H0.9M-0.9,2.6H0.9" stroke-width="0.8"/></g>
<g transform="translate(133.9,295.4)"><circle r="2.1"/><path d="M0,-2.6V2.6M-0.9,-2.6H0.9M-0.9,2.6H0.9" stroke-width="0.8"/></g>
<g transform="translate(133.5,299.3)"><circle r="2.1" fill="none"/><path d="M0,-2.6V2.6M-0.9,-2.6H0.9M-0.9,2.6H0.9" stroke-width="0.8"/></g>
<g transform="translate(139.0,290.4)"><circle r="2.1"/><path d="M0,-3.0V3.0M-0.9,-3.0H0.9M-0.9,3.0H0.9" stroke-width="0.8"/></g>
<g transform="translate(135.3,281.6)"><circle r="2.1" fill="none"/><path d="M0,-2.8V2.8M-0.9,-2.8H0.9M-0.9,2.8H0.9" stroke-width="0.8"/></g>
<g transform="translate(137.8,284.4)"><circle r="2.1" fill="none"/><path d="M0,-3.1V3.1M-0.9,-3.1H0.9M-0.9,3.1H0.9" stroke-width="0.8"/></g>
<g transform="translate(142.7,283.9)"><circle r="2.1"/><path d="M0,-2.5V2.5M-0.9,-2.5H0.9M-0.9,2.5H0.9" stroke-width="0.8"/></g>
<g transform="translate(141.2,278.5)"><circle r="2.1" fill="none"/><path d="M0,-4.1V4.1M-0.9,-4.1H0.9M-0.9,4.1H0.9" stroke-width="0.8"/></g>
<g transform="translate(133.3,288.3)"><circle r="2.1"/><path d="M0,-2.3V2.3M-0.9,-2.3H0.9M-0.9,2.3H0.9" stroke-width="0.8"/></g>
<g transform="translate(135.4,278.3)"><circle r="2.1"/><path d="M0,-4.4V4.4M-0.9,-4.4H0.9M-0.9,4.4H0.9" stroke-width="0.8"/></g>
<g transform="translate(131.0,278.6)"><circle r="2.1" fill="none"/><path d="M0,-3.9V3.9M-0.9,-3.9H0.9M-0.9,3.9H0.9" stroke-width="0.8"/></g>
<g transform="translate(137.8,286.5)"><circle r="2.1" fill="none"/><path d="M0,-4.3V4.3M-0.9,-4.3H0.9M-0.9,4.3H0.9" stroke-width="0.8"/></g>
<g transform="translate(138.6,280.6)"><circle r="2.1"/><path d="M0,-3.5V3.5M-0.9,-3.5H0.9M-0.9,3.5H0.9" stroke-width="0.8"/></g>
<g transform="translate(129.2,284.1)"><circle r="2.1"/><path d="M0,-4.1V4.1M-0.9,-4.1H0.9M-0.9,4.1H0.9" stroke-width="0.8"/></g>
<g transform="translate(132.8,282.5)"><circle r="2.1" fill="none"/><path d="M0,-4.0V4.0M-0.9,-4.0H0.9M-0.9,4.0H0.9" stroke-width="0.8"/></g>
<g transform="translate(142.6,272.9)"><circle r="2.1" fill="none"/><path d="M0,-4.0V4.0M-0.9,-4.0H0.9M-0.9,4.0H0.9" stroke-width="0.8"/></g>
<g transform="translate(145.9,256.2)"><circle r="2.1" fill="none"/><path d="M0,-5.9V5.9M-0.9,-5.9H0.9M-0.9,5.9H0.9" stroke-width="0.8"/></g>
<g transform="translate(137.0,265.3)"><circle r="2.1" fill="none"/><path d="M0,-4.8V4.8M-0.9,-4.8H0.9M-0.9,4.8H0.9" stroke-width="0.8"/></g>
<g transform="translate(139.8,268.2)"><circle r="2.1" fill="none"/><path d="M0,-5.7V5.7M-0.9,-5.7H0.9M-0.9,5.7H0.9" stroke-width="0.8"/></g>
<g transform="translate(146.4,265.6)"><circle r="2.1"/><path d="M0,-4.9V4.9M-0.9,-4.9H0.9M-0.9,4.9H0.9" stroke-width="0.8"/></g>
<g transform="translate(143.8,274.5)"><circle r="2.1" fill="none"/><path d="M0,-4.8V4.8M-0.9,-4.8H0.9M-0.9,4.8H0.9" stroke-width="0.8"/></g>
<g transform="translate(138.0,276.5)"><circle r="2.1" fill="none"/><path d="M0,-6.0V6.0M-0.9,-6.0H0.9M-0.9,6.0H0.9" stroke-width="0.8"/></g>
<g transform="translate(141.7,273.8)"><circle r="2.1" fill="none"/><path d="M0,-3.7V3.7M-0.9,-3.7H0.9M-0.9,3.7H0.9" stroke-width="0.8"/></g>
<g transform="translate(145.3,262.7)"><circle r="2.1" fill="none"/><path d="M0,-2.9V2.9M-0.9,-2.9H0.9M-0.9,2.9H0.9" stroke-width="0.8"/></g>
<g transform="translate(141.8,273.2)"><circle r="2.1"/><path d="M0,-4.3V4.3M-0.9,-4.3H0.9M-0.9,4.3H0.9" stroke-width="0.8"/></g>
<g transform="translate(144.8,255.6)"><circle r="2.1"/><path d="M0,-5.4V5.4M-0.9,-5.4H0.9M-0.9,5.4H0.9" stroke-width="0.8"/></g>
<g transform="translate(139.4,273.7)"><circle r="2.1"/><path d="M0,-3.1V3.1M-0.9,-3.1H0.9M-0.9,3.1H0.9" stroke-width="0.8"/></g>
<g transform="translate(141.4,272.1)"><circle r="2.1" fill="none"/><path d="M0,-5.5V5.5M-0.9,-5.5H0.9M-0.9,5.5H0.9" stroke-width="0.8"/></g>
<g transform="translate(146.4,266.3)"><circle r="2.1"/><path d="M0,-5.9V5.9M-0.9,-5.9H0.9M-0.9,5.9H0.9" stroke-width="0.8"/></g>
<g transform="translate(138.0,267.2)"><circle r="2.1" fill="none"/><path d="M0,-3.6V3.6M-0.9,-3.6H0.9M-0.9,3.6H0.9" stroke-width="0.8"/></g>
<g transform="translate(142.8,267.1)"><circle r="2.1" fill="none"/><path d="M0,-5.6V5.6M-0.9,-5.6H0.9M-0.9,5.6H0.9" stroke-width="0.8"/></g>
<g transform="translate(139.1,263.5)"><circle r="2.1" fill="none"/><path d="M0,-5.6V5.6M-0.9,-5.6H0.9M-0.9,5.6H0.9" stroke-width="0.8"/></g>
<g transform="translate(137.9,275.3)"><circle r="2.1" fill="none"/><path d="M0,-6.0V6.0M-0.9,-6.0H0.9M-0.9,6.0H0.9" stroke-width="0.8"/></g>
<g transform="translate(142.1,259.0)"><circle r="2.1" fill="none"/><path d="M0,-4.5V4.5M-0.9,-4.5H0.9M-0.9,4.5H0.9" stroke-width="0.8"/></g>
<g transform="translate(142.5,254.7)"><circle r="2.1" fill="none"/><path d="M0,-6.0V6.0M-0.9,-6.0H0.9M-0.9,6.0H0.9" stroke-width="0.8"/></g>
<g transform="translate(140.1,274.0)"><circle r="2.1" fill="none"/><path d="M0,-4.6V4.6M-0.9,-4.6H0.9M-0.9,4.6H0.9" stroke-width="0.8"/></g>
<g transform="translate(143.4,255.6)"><circle r="2.1" fill="none"/><path d="M0,-4.5V4.5M-0.9,-4.5H0.9M-0.9,4.5H0.9" stroke-width="0.8"/></g>
<g transform="translate(147.4,241.6)"><circle r="2.1"/><path d="M0,-4.0V4.0M-0.9,-4.0H0.9M-0.9,4.0H0.9" stroke-width="0.8"/></g>
<g transform="translate(143.5,244.4)"><circle r="2.1" fill="none"/><path d="M0,-5.0V5.0M-0.9,-5.0H0.9M-0.9,5.0H0.9" stroke-width="0.8"/></g>
<g transform="translate(143.1,240.3)"><circle r="2.1" fill="none"/><path d="M0,-4.5V4.5M-0.9,-4.5H0.9M-0.9,4.5H0.9" stroke-width="0.8"/></g>
<g transform="translate(144.5,239.2)"><circle r="2.1"/><path d="M0,-4.9V4.9M-0.9,-4.9H0.9M-0.9,4.9H0.9" stroke-width="0.8"/></g>
<g transform="translate(144.6,248.7)"><circle r="2.1" fill="none"/><path d="M0,-3.6V3.6M-0.9,-3.6H0.9M-0.9,3.6H0.9" stroke-width="0.8"/></g>
<g transform="translate(145.2,247.5)"><circle r="2.1" fill="none"/><path d="M0,-2.9V2.9M-0.9,-2.9H0.9M-0.9,2.9H0.9" stroke-width="0.8"/></g>
<g transform="translate(145.5,241.3)"><circle r="2.1" fill="none"/><path d="M0,-3.2V3.2M-0.9,-3.2H0.9M-0.9,3.2H0.9" stroke-width="0.8"/></g>
<g transform="translate(154.9,254.9)"><circle r="2.1" fill="none"/><path d="M0,-4.0V4.0M-0.9,-4.0H0.9M-0.9,4.0H0.9" stroke-width="0.8"/></g>
<g transform="translate(149.9,249.9)"><circle r="2.1" fill="none"/><path d="M0,-4.8V4.8M-0.9,-4.8H0.9M-0.9,4.8H0.9" stroke-width="0.8"/></g>
<g transform="translate(156.5,268.7)"><circle r="2.1" fill="none"/><path d="M0,-4.7V4.7M-0.9,-4.7H0.9M-0.9,4.7H0.9" stroke-width="0.8"/></g>
<g transform="translate(151.2,265.5)"><circle r="2.1" fill="none"/><path d="M0,-5.4V5.4M-0.9,-5.4H0.9M-0.9,5.4H0.9" stroke-width="0.8"/></g>
<g transform="translate(152.7,253.1)"><circle r="2.1"/><path d="M0,-5.8V5.8M-0.9,-5.8H0.9M-0.9,5.8H0.9" stroke-width="0.8"/></g>
<g transform="translate(165.0,269.7)"><circle r="2.1"/><path d="M0,-3.1V3.1M-0.9,-3.1H0.9M-0.9,3.1H0.9" stroke-width="0.8"/></g>
<g transform="translate(148.7,268.1)"><circle r="2.1" fill="none"/><path d="M0,-4.1V4.1M-0.9,-4.1H0.9M-0.9,4.1H0.9" stroke-width="0.8"/></g>
<g transform="translate(149.3,255.7)"><circle r="2.1"/><path d="M0,-5.0V5.0M-0.9,-5.0H0.9M-0.9,5.0H0.9" stroke-width="0.8"/></g>
<g transform="translate(150.6,263.8)"><circle r="2.1" fill="none"/><path d="M0,-5.8V5.8M-0.9,-5.8H0.9M-0.9,5.8H0.9" stroke-width="0.8"/></g>
<g transform="translate(149.1,258.7)"><circle r="2.1" fill="none"/><path d="M0,-5.3V5.3M-0.9,-5.3H0.9M-0.9,5.3H0.9" stroke-width="0.8"/></g>
<g transform="translate(147.7,260.0)"><circle r="2.1" fill="none"/><path d="M0,-4.4V4.4M-0.9,-4.4H0.9M-0.9,4.4H0.9" stroke-width="0.8"/></g>
<g transform="translate(149.6,249.4)"><circle r="2.1" fill="none"/><path d="M0,-3.3V3.3M-0.9,-3.3H0.9M-0.9,3.3H0.9" stroke-width="0.8"/></g>
<g transform="translate(164.8,270.9)"><circle r="2.1"/><path d="M0,-2.9V2.9M-0.9,-2.9H0.9M-0.9,2.9H0.9" stroke-width="0.8"/></g>
<g transform="translate(164.1,257.4)"><circle r="2.1" fill="none"/><path d="M0,-5.3V5.3M-0.9,-5.3H0.9M-0.9,5.3H0.9" stroke-width="0.8"/></g>
<g transform="translate(155.4,258.9)"><circle r="2.1" fill="none"/><path d="M0,-4.1V4.1M-0.9,-4.1H0.9M-0.9,4.1H0.9" stroke-width="0.8"/></g>
<g transform="translate(147.2,264.3)"><circle r="2.1"/><path d="M0,-5.6V5.6M-0.9,-5.6H0.9M-0.9,5.6H0.9" stroke-width="0.8"/></g>
<g transform="translate(155.2,265.4)"><circle r="2.1"/><path d="M0,-4.0V4.0M-0.9,-4.0H0.9M-0.9,4.0H0.9" stroke-width="0.8"/></g>
<g transform="translate(150.0,258.9)"><circle r="2.1" fill="none"/><path d="M0,-2.7V2.7M-0.9,-2.7H0.9M-0.9,2.7H0.9" stroke-width="0.8"/></g>
<g transform="translate(161.4,264.4)"><circle r="2.1" fill="none"/><path d="M0,-5.6V5.6M-0.9,-5.6H0.9M-0.9,5.6H0.9" stroke-width="0.8"/></g>
<g transform="translate(154.3,261.4)"><circle r="2.1" fill="none"/><path d="M0,-4.4V4.4M-0.9,-4.4H0.9M-0.9,4.4H0.9" stroke-width="0.8"/></g>
<g transform="translate(163.4,265.6)"><circle r="2.1" fill="none"/><path d="M0,-5.3V5.3M-0.9,-5.3H0.9M-0.9,5.3H0.9" stroke-width="0.8"/></g>
<g transform="translate(154.3,270.0)"><circle r="2.1" fill="none"/><path d="M0,-5.7V5.7M-0.9,-5.7H0.9M-0.9,5.7H0.9" stroke-width="0.8"/></g>
<g transform="translate(160.8,266.2)"><circle r="2.1" fill="none"/><path d="M0,-4.0V4.0M-0.9,-4.0H0.9M-0.9,4.0H0.9" stroke-width="0.8"/></g>
<g transform="translate(148.3,253.9)"><circle r="2.1"/><path d="M0,-4.2V4.2M-0.9,-4.2H0.9M-0.9,4.2H0.9" stroke-width="0.8"/></g>
<g transform="translate(153.4,262.5)"><circle r="2.1"/><path d="M0,-4.8V4.8M-0.9,-4.8H0.9M-0.9,4.8H0.9" stroke-width="0.8"/></g>
<g transform="translate(164.0,263.3)"><circle r="2.1" fill="none"/><path d="M0,-3.8V3.8M-0.9,-3.8H0.9M-0.9,3.8H0.9" stroke-width="0.8"/></g>
<g transform="translate(157.3,259.5)"><circle r="2.1" fill="none"/><path d="M0,-4.0V4.0M-0.9,-4.0H0.9M-0.9,4.0H0.9" stroke-width="0.8"/></g>
<g transform="translate(158.6,264.3)"><circle r="2.1" fill="none"/><path d="M0,-5.3V5.3M-0.9,-5.3H0.9M-0.9,5.3H0.9" stroke-width="0.8"/></g>
<g transform="translate(147.4,261.8)"><circle r="2.1"/><path d="M0,-5.2V5.2M-0.9,-5.2H0.9M-0.9,5.2H0.9" stroke-width="0.8"/></g>
<g transform="translate(150.5,254.9)"><circle r="2.1"/><path d="M0,-2.9V2.9M-0.9,-2.9H0.9M-0.9,2.9H0.9" stroke-width="0.8"/></g>
<g transform="translate(163.3,260.0)"><circle r="2.1" fill="none"/><path d="M0,-4.4V4.4M-0.9,-4.4H0.9M-0.9,4.4H0.9" stroke-width="0.8"/></g>
<g transform="translate(157.2,272.9)"><circle r="2.1" fill="none"/><path d="M0,-4.8V4.8M-0.9,-4.8H0.9M-0.9,4.8H0.9" stroke-width="0.8"/></g>
<g transform="translate(148.4,261.3)"><circle r="2.1"/><path d="M0,-5.3V5.3M-0.9,-5.3H0.9M-0.9,5.3H0.9" stroke-width="0.8"/></g>
<g transform="translate(155.5,248.9)"><circle r="2.1" fill="none"/><path d="M0,-4.3V4.3M-0.9,-4.3H0.9M-0.9,4.3H0.9" stroke-width="0.8"/></g>
<g transform="translate(148.1,271.4)"><circle r="2.1" fill="none"/><path d="M0,-4.1V4.1M-0.9,-4.1H0.9M-0.9,4.1H0.9" stroke-width="0.8"/></g>
<g transform="translate(157.8,254.6)"><circle r="2.1" fill="none"/><path d="M0,-3.6V3.6M-0.9,-3.6H0.9M-0.9,3.6H0.9" stroke-width="0.8"/></g>
<g transform="translate(157.1,252.2)"><circle r="2.1"/><path d="M0,-5.1V5.1M-0.9,-5.1H0.9M-0.9,5.1H0.9" stroke-width="0.8"/></g>
<g transform="translate(160.6,255.3)"><circle r="2.1" fill="none"/><path d="M0,-5.7V5.7M-0.9,-5.7H0.9M-0.9,5.7H0.9" stroke-width="0.8"/></g>
<g transform="translate(147.9,272.7)"><circle r="2.1"/><path d="M0,-5.9V5.9M-0.9,-5.9H0.9M-0.9,5.9H0.9" stroke-width="0.8"/></g>
<g transform="translate(163.3,256.5)"><circle r="2.1" fill="none"/><path d="M0,-4.3V4.3M-0.9,-4.3H0.9M-0.9,4.3H0.9" stroke-width="0.8"/></g>
<g transform="translate(151.4,259.2)"><circle r="2.1" fill="none"/><path d="M0,-5.9V5.9M-0.9,-5.9H0.9M-0.9,5.9H0.9" stroke-width="0.8"/></g>
<g transform="translate(155.4,272.4)"><circle r="2.1" fill="none"/><path d="M0,-5.5V5.5M-0.9,-5.5H0.9M-0.9,5.5H0.9" stroke-width="0.8"/></g>
<g transform="translate(149.1,262.1)"><circle r="2.1"/><path d="M0,-4.2V4.2M-0.9,-4.2H0.9M-0.9,4.2H0.9" stroke-width="0.8"/></g>
<g transform="translate(147.9,259.3)"><circle r="2.1" fill="none"/><path d="M0,-3.0V3.0M-0.9,-3.0H0.9M-0.9,3.0H0.9" stroke-width="0.8"/></g>
<g transform="translate(159.0,257.2)"><circle r="2.1" fill="none"/><path d="M0,-3.5V3.5M-0.9,-3.5H0.9M-0.9,3.5H0.9" stroke-width="0.8"/></g>
<g transform="translate(154.6,266.6)"><circle r="2.1" fill="none"/><path d="M0,-4.5V4.5M-0.9,-4.5H0.9M-0.9,4.5H0.9" stroke-width="0.8"/></g>
<g transform="translate(164.1,265.3)"><circle r="2.1"/><path d="M0,-3.4V3.4M-0.9,-3.4H0.9M-0.9,3.4H0.9" stroke-width="0.8"/></g>
<g transform="translate(163.1,266.7)"><circle r="2.1" fill="none"/><path d="M0,-4.8V4.8M-0.9,-4.8H0.9M-0.9,4.8H0.9" stroke-width="0.8"/></g>
<g transform="translate(151.9,263.9)"><circle r="2.1" fill="none"/><path d="M0,-4.6V4.6M-0.9,-4.6H0.9M-0.9,4.6H0.9" stroke-width="0.8"/></g>
<g transform="translate(158.4,265.8)"><circle r="2.1"/><path d="M0,-3.3V3.3M-0.9,-3.3H0.9M-0.9,3.3H0.9" stroke-width="0.8"/></g>
<g transform="translate(251.9,348.1)"><circle r="2.1"/><path d="M0,-4.5V4.5M-0.9,-4.5H0.9M-0.9,4.5H0.9" stroke-width="0.8"/></g>
<g transform="translate(246.4,334.0)"><circle r="2.1" fill="none"/><path d="M0,-3.4V3.4M-0.9,-3.4H0.9M-0.9,3.4H0.9" stroke-width="0.8"/></g>
<g transform="translate(246.6,339.9)"><circle r="2.1"/><path d="M0,-2.5V2.5M-0.9,-2.5H0.9M-0.9,2.5H0.9" stroke-width="0.8"/></g>
<g transform="translate(250.1,340.1)"><circle r="2.1" fill="none"/><path d="M0,-3.9V3.9M-0.9,-3.9H0.9M-0.9,3.9H0.9" stroke-width="0.8"/></g>
<g transform="translate(248.9,332.6)"><circle r="2.1" fill="none"/><path d="M0,-3.2V3.2M-0.9,-3.2H0.9M-0.9,3.2H0.9" stroke-width="0.8"/></g>
<g transform="translate(251.0,329.6)"><circle r="2.1" fill="none"/><path d="M0,-2.6V2.6M-0.9,-2.6H0.9M-0.9,2.6H0.9" stroke-width="0.8"/></g>
<g transform="translate(249.7,344.9)"><circle r="2.1" fill="none"/><path d="M0,-2.8V2.8M-0.9,-2.8H0.9M-0.9,2.8H0.9" stroke-width="0.8"/></g>
<g transform="translate(247.5,345.8)"><circle r="2.1" fill="none"/><path d="M0,-3.2V3.2M-0.9,-3.2H0.9M-0.9,3.2H0.9" stroke-width="0.8"/></g>
<g transform="translate(251.9,335.2)"><circle r="2.1" fill="none"/><path d="M0,-3.7V3.7M-0.9,-3.7H0.9M-0.9,3.7H0.9" stroke-width="0.8"/></g>
<g transform="translate(251.5,337.4)"><circle r="2.1"/><path d="M0,-3.2V3.2M-0.9,-3.2H0.9M-0.9,3.2H0.9" stroke-width="0.8"/></g>
<g transform="translate(251.3,329.7)"><circle r="2.1" fill="none"/><path d="M0,-2.5V2.5M-0.9,-2.5H0.9M-0.9,2.5H0.9" stroke-width="0.8"/></g>
<g transform="translate(256.9,342.0)"><circle r="2.1" fill="none"/><path d="M0,-3.0V3.0M-0.9,-3.0H0.9M-0.9,3.0H0.9" stroke-width="0.8"/></g>
<g transform="translate(254.0,334.4)"><circle r="2.1"/><path d="M0,-4.0V4.0M-0.9,-4.0H0.9M-0.9,4.0H0.9" stroke-width="0.8"/></g>
<g transform="translate(255.6,342.6)"><circle r="2.1"/><path d="M0,-4.0V4.0M-0.9,-4.0H0.9M-0.9,4.0H0.9" stroke-width="0.8"/></g>
<g transform="translate(254.5,336.7)"><circle r="2.1" fill="none"/><path d="M0,-4.1V4.1M-0.9,-4.1H0.9M-0.9,4.1H0.9" stroke-width="0.8"/></g>
<g transform="translate(254.3,342.3)"><circle r="2.1" fill="none"/><path d="M0,-3.7V3.7M-0.9,-3.7H0.9M-0.9,3.7H0.9" stroke-width="0.8"/></g>
<g transform="translate(260.1,345.6)"><circle r="2.1" fill="none"/><path d="M0,-3.4V3.4M-0.9,-3.4H0.9M-0.9,3.4H0.9" stroke-width="0.8"/></g>
<g transform="translate(255.6,336.1)"><circle r="2.1" fill="none"/><path d="M0,-3.3V3.3M-0.9,-3.3H0.9M-0.9,3.3H0.9" stroke-width="0.8"/></g>
<g transform="translate(259.8,335.0)"><circle r="2.1" fill="none"/><path d="M0,-3.2V3.2M-0.9,-3.2H0.9M-0.9,3.2H0.9" stroke-width="0.8"/></g>
<g transform="translate(256.0,337.3)"><circle r="2.1"/><path d="M0,-3.3V3.3M-0.9,-3.3H0.9M-0.9,3.3H0.9" stroke-width="0.8"/></g>
<g transform="translate(257.4,343.8)"><circle r="2.1" fill="none"/><path d="M0,-3.7V3.7M-0.9,-3.7H0.9M-0.9,3.7H0.9" stroke-width="0.8"/></g>
<g transform="translate(257.4,333.8)"><circle r="2.1" fill="none"/><path d="M0,-4.2V4.2M-0.9,-4.2H0.9M-0.9,4.2H0.9" stroke-width="0.8"/></g>
<g transform="translate(255.5,331.4)"><circle r="2.1" fill="none"/><path d="M0,-3.6V3.6M-0.9,-3.6H0.9M-0.9,3.6H0.9" stroke-width="0.8"/></g>
<g transform="translate(265.7,350.7)"><circle r="2.1" fill="none"/><path d="M0,-3.9V3.9M-0.9,-3.9H0.9M-0.9,3.9H0.9" stroke-width="0.8"/></g>
<g transform="translate(260.6,346.5)"><circle r="2.1"/><path d="M0,-4.3V4.3M-0.9,-4.3H0.9M-0.9,4.3H0.9" stroke-width="0.8"/></g>
<g transform="translate(260.8,348.4)"><circle r="2.1"/><path d="M0,-4.5V4.5M-0.9,-4.5H0.9M-0.9,4.5H0.9" stroke-width="0.8"/></g>
<g transform="translate(266.3,342.4)"><circle r="2.1" fill="none"/><path d="M0,-4.2V4.2M-0.9,-4.2H0.9M-0.9,4.2H0.9" stroke-width="0.8"/></g>
<g transform="translate(262.5,343.2)"><circle r="2.1" fill="none"/><path d="M0,-4.2V4.2M-0.9,-4.2H0.9M-0.9,4.2H0.9" stroke-width="0.8"/></g>
<g transform="translate(267.6,344.9)"><circle r="2.1" fill="none"/><path d="M0,-3.1V3.1M-0.9,-3.1H0.9M-0.9,3.1H0.9" stroke-width="0.8"/></g>
<g transform="translate(266.7,345.9)"><circle r="2.1" fill="none"/><path d="M0,-3.6V3.6M-0.9,-3.6H0.9M-0.9,3.6H0.9" stroke-width="0.8"/></g>
<g transform="translate(267.1,350.1)"><circle r="2.1" fill="none"/><path d="M0,-3.3V3.3M-0.9,-3.3H0.9M-0.9,3.3H0.9" stroke-width="0.8"/></g>
<g transform="translate(266.7,349.5)"><circle r="2.1" fill="none"/><path d="M0,-4.3V4.3M-0.9,-4.3H0.9M-0.9,4.3H0.9" stroke-width="0.8"/></g>
<g transform="translate(268.9,350.6)"><circle r="2.1" fill="none"/><path d="M0,-3.9V3.9M-0.9,-3.9H0.9M-0.9,3.9H0.9" stroke-width="0.8"/></g>
<g transform="translate(268.3,332.0)"><circle r="2.1" fill="none"/><path d="M0,-3.4V3.4M-0.9,-3.4H0.9M-0.9,3.4H0.9" stroke-width="0.8"/></g>
<g transform="translate(264.9,331.1)"><circle r="2.1" fill="none"/><path d="M0,-4.8V4.8M-0.9,-4.8H0.9M-0.9,4.8H0.9" stroke-width="0.8"/></g>
<g transform="translate(265.0,323.1)"><circle r="2.1"/><path d="M0,-3.4V3.4M-0.9,-3.4H0.9M-0.9,3.4H0.9" stroke-width="0.8"/></g>
<g transform="translate(269.8,320.9)"><circle r="2.1"/><path d="M0,-3.1V3.1M-0.9,-3.1H0.9M-0.9,3.1H0.9" stroke-width="0.8"/></g>
<g transform="translate(267.9,331.6)"><circle r="2.1"/><path d="M0,-2.7V2.7M-0.9,-2.7H0.9M-0.9,2.7H0.9" stroke-width="0.8"/></g>
<g transform="translate(46.9,103.3)"><circle r="2.1"/><path d="M0,-4.1V4.1M-0.9,-4.1H0.9M-0.9,4.1H0.9" stroke-width="0.8"/></g>
<g transform="translate(56.2,105.9)"><circle r="2.1"/><path d="M0,-3.3V3.3M-0.9,-3.3H0.9M-0.9,3.3H0.9" stroke-width="0.8"/></g>
<g transform="translate(53.6,110.3)"><circle r="2.1"/><path d="M0,-3.6V3.6M-0.9,-3.6H0.9M-0.9,3.6H0.9" stroke-width="0.8"/></g>
<g transform="translate(62.9,108.4)"><circle r="2.1"/><path d="M0,-3.3V3.3M-0.9,-3.3H0.9M-0.9,3.3H0.9" stroke-width="0.8"/></g>
<g transform="translate(60.6,114.4)"><circle r="2.1"/><path d="M0,-3.1V3.1M-0.9,-3.1H0.9M-0.9,3.1H0.9" stroke-width="0.8"/></g>
<g transform="translate(46.4,114.8)"><circle r="2.1"/><path d="M0,-2.3V2.3M-0.9,-2.3H0.9M-0.9,2.3H0.9" stroke-width="0.8"/></g>
<g transform="translate(45.2,119.0)"><circle r="2.1"/><path d="M0,-2.3V2.3M-0.9,-2.3H0.9M-0.9,2.3H0.9" stroke-width="0.8"/></g>
<g transform="translate(52.1,120.0)"><circle r="2.1"/><path d="M0,-2.3V2.3M-0.9,-2.3H0.9M-0.9,2.3H0.9" stroke-width="0.8"/></g>
<g transform="translate(46.9,121.4)"><circle r="2.1"/><path d="M0,-2.3V2.3M-0.9,-2.3H0.9M-0.9,2.3H0.9" stroke-width="0.8"/></g>
<g transform="translate(49.3,125.5)"><circle r="2.1"/><path d="M0,-2.3V2.3M-0.9,-2.3H0.9M-0.9,2.3H0.9" stroke-width="0.8"/></g>
<g transform="translate(44.9,130.1)"><circle r="2.1"/><path d="M0,-3.1V3.1M-0.9,-3.1H0.9M-0.9,3.1H0.9" stroke-width="0.8"/></g>
<g transform="translate(44.3,132.7)"><circle r="2.1"/><path d="M0,-2.6V2.6M-0.9,-2.6H0.9M-0.9,2.6H0.9" stroke-width="0.8"/></g>
<g transform="translate(42.8,134.9)"><circle r="2.1"/><path d="M0,-2.6V2.6M-0.9,-2.6H0.9M-0.9,2.6H0.9" stroke-width="0.8"/></g>
<g transform="translate(44.3,146.0)"><circle r="2.1"/><path d="M0,-3.3V3.3M-0.9,-3.3H0.9M-0.9,3.3H0.9" stroke-width="0.8"/></g>
<g transform="translate(39.7,137.5)"><circle r="2.1"/><path d="M0,-2.3V2.3M-0.9,-2.3H0.9M-0.9,2.3H0.9" stroke-width="0.8"/></g>
<g transform="translate(41.8,138.5)"><circle r="2.1"/><path d="M0,-2.3V2.3M-0.9,-2.3H0.9M-0.9,2.3H0.9" stroke-width="0.8"/></g>
<g transform="translate(40.2,140.6)"><circle r="2.1"/><path d="M0,-2.3V2.3M-0.9,-2.3H0.9M-0.9,2.3H0.9" stroke-width="0.8"/></g>
<g transform="translate(43.3,139.0)"><circle r="2.1"/><path d="M0,-2.3V2.3M-0.9,-2.3H0.9M-0.9,2.3H0.9" stroke-width="0.8"/></g>
<g transform="translate(39.6,141.1)"><circle r="2.1"/><path d="M0,-2.3V2.3M-0.9,-2.3H0.9M-0.9,2.3H0.9" stroke-width="0.8"/></g>
<g transform="translate(41.0,136.0)"><circle r="2.1"/><path d="M0,-2.3V2.3M-0.9,-2.3H0.9M-0.9,2.3H0.9" stroke-width="0.8"/></g>
<g transform="translate(42.5,141.5)"><circle r="2.1"/><path d="M0,-2.3V2.3M-0.9,-2.3H0.9M-0.9,2.3H0.9" stroke-width="0.8"/></g>
<g transform="translate(40.8,143.0)"><circle r="2.1"/><path d="M0,-2.3V2.3M-0.9,-2.3H0.9M-0.9,2.3H0.9" stroke-width="0.8"/></g>
<g transform="translate(44.5,137.0)"><circle r="2.1"/><path d="M0,-2.3V2.3M-0.9,-2.3H0.9M-0.9,2.3H0.9" stroke-width="0.8"/></g>
<g transform="translate(45.5,140.0)"><circle r="2.1"/><path d="M0,-2.3V2.3M-0.9,-2.3H0.9M-0.9,2.3H0.9" stroke-width="0.8"/></g>
<g transform="translate(76.4,115.2)"><circle r="2.1"/><path d="M0,-4.1V4.1M-0.9,-4.1H0.9M-0.9,4.1H0.9" stroke-width="0.8"/></g>
<g transform="translate(78.4,120.3)"><circle r="2.1"/><path d="M0,-4.1V4.1M-0.9,-4.1H0.9M-0.9,4.1H0.9" stroke-width="0.8"/></g>
<g transform="translate(87.2,116.2)"><circle r="2.1"/><path d="M0,-7.1V7.1M-0.9,-7.1H0.9M-0.9,7.1H0.9" stroke-width="0.8"/></g>
<g transform="translate(85.7,118.3)"><circle r="2.1"/><path d="M0,-3.1V3.1M-0.9,-3.1H0.9M-0.9,3.1H0.9" stroke-width="0.8"/></g>
<g transform="translate(88.3,122.4)"><circle r="2.1"/><path d="M0,-3.1V3.1M-0.9,-3.1H0.9M-0.9,3.1H0.9" stroke-width="0.8"/></g>
<g transform="translate(85.7,127.9)"><circle r="2.1"/><path d="M0,-5.1V5.1M-0.9,-5.1H0.9M-0.9,5.1H0.9" stroke-width="0.8"/></g>
<g transform="translate(81.0,130.1)"><circle r="2.1"/><path d="M0,-5.6V5.6M-0.9,-5.6H0.9M-0.9,5.6H0.9" stroke-width="0.8"/></g>
<g transform="translate(89.8,138.5)"><circle r="2.1"/><path d="M0,-5.6V5.6M-0.9,-5.6H0.9M-0.9,5.6H0.9" stroke-width="0.8"/></g>
<g transform="translate(101.6,97.0)"><circle r="2.1"/><path d="M0,-2.3V2.3M-0.9,-2.3H0.9M-0.9,2.3H0.9" stroke-width="0.8"/></g>
<g transform="translate(103.7,99.1)"><circle r="2.1"/><path d="M0,-2.3V2.3M-0.9,-2.3H0.9M-0.9,2.3H0.9" stroke-width="0.8"/></g>
<g transform="translate(106.8,99.6)"><circle r="2.1"/><path d="M0,-2.3V2.3M-0.9,-2.3H0.9M-0.9,2.3H0.9" stroke-width="0.8"/></g>
<g transform="translate(109.9,98.6)"><circle r="2.1"/><path d="M0,-2.3V2.3M-0.9,-2.3H0.9M-0.9,2.3H0.9" stroke-width="0.8"/></g>
<g transform="translate(114.3,98.6)"><circle r="2.1"/><path d="M0,-2.3V2.3M-0.9,-2.3H0.9M-0.9,2.3H0.9" stroke-width="0.8"/></g>
<g transform="translate(113.0,101.2)"><circle r="2.1"/><path d="M0,-2.3V2.3M-0.9,-2.3H0.9M-0.9,2.3H0.9" stroke-width="0.8"/></g>
<g transform="translate(118.6,84.1)"><circle r="2.1"/><path d="M0,-2.3V2.3M-0.9,-2.3H0.9M-0.9,2.3H0.9" stroke-width="0.8"/></g>
<g transform="translate(117.6,88.3)"><circle r="2.1"/><path d="M0,-2.3V2.3M-0.9,-2.3H0.9M-0.9,2.3H0.9" stroke-width="0.8"/></g>
<g transform="translate(115.5,90.3)"><circle r="2.1"/><path d="M0,-2.3V2.3M-0.9,-2.3H0.9M-0.9,2.3H0.9" stroke-width="0.8"/></g>
<g transform="translate(103.5,120.0)"><circle r="2.1"/><path d="M0,-2.3V2.3M-0.9,-2.3H0.9M-0.9,2.3H0.9" stroke-width="0.8"/></g>
<g transform="translate(110.2,113.8)"><circle r="2.1"/><path d="M0,-2.3V2.3M-0.9,-2.3H0.9M-0.9,2.3H0.9" stroke-width="0.8"/></g>
<g transform="translate(114.8,114.8)"><circle r="2.1"/><path d="M0,-2.3V2.3M-0.9,-2.3H0.9M-0.9,2.3H0.9" stroke-width="0.8"/></g>
<g transform="translate(117.9,116.9)"><circle r="2.1"/><path d="M0,-2.3V2.3M-0.9,-2.3H0.9M-0.9,2.3H0.9" stroke-width="0.8"/></g>
<g transform="translate(113.8,118.4)"><circle r="2.1"/><path d="M0,-2.3V2.3M-0.9,-2.3H0.9M-0.9,2.3H0.9" stroke-width="0.8"/></g>
<g transform="translate(110.2,121.5)"><circle r="2.1"/><path d="M0,-2.3V2.3M-0.9,-2.3H0.9M-0.9,2.3H0.9" stroke-width="0.8"/></g>
<g transform="translate(106.1,124.6)"><circle r="2.1"/><path d="M0,-2.3V2.3M-0.9,-2.3H0.9M-0.9,2.3H0.9" stroke-width="0.8"/></g>
<g transform="translate(108.1,126.7)"><circle r="2.1"/><path d="M0,-2.3V2.3M-0.9,-2.3H0.9M-0.9,2.3H0.9" stroke-width="0.8"/></g>
<g transform="translate(104.5,128.3)"><circle r="2.1"/><path d="M0,-2.3V2.3M-0.9,-2.3H0.9M-0.9,2.3H0.9" stroke-width="0.8"/></g>
<g transform="translate(110.2,127.2)"><circle r="2.1"/><path d="M0,-2.3V2.3M-0.9,-2.3H0.9M-0.9,2.3H0.9" stroke-width="0.8"/></g>
<g transform="translate(108.6,130.3)"><circle r="2.1"/><path d="M0,-2.3V2.3M-0.9,-2.3H0.9M-0.9,2.3H0.9" stroke-width="0.8"/></g>
<g transform="translate(104.5,131.9)"><circle r="2.1"/><path d="M0,-2.3V2.3M-0.9,-2.3H0.9M-0.9,2.3H0.9" stroke-width="0.8"/></g>
<g transform="translate(107.6,136.0)"><circle r="2.1"/><path d="M0,-2.3V2.3M-0.9,-2.3H0.9M-0.9,2.3H0.9" stroke-width="0.8"/></g>
<g transform="translate(109.3,114.1)"><circle r="2.1"/><path d="M0,-2.3V2.3M-0.9,-2.3H0.9M-0.9,2.3H0.9" stroke-width="0.8"/></g>
<g transform="translate(114.5,113.6)"><circle r="2.1"/><path d="M0,-2.3V2.3M-0.9,-2.3H0.9M-0.9,2.3H0.9" stroke-width="0.8"/></g>
<g transform="translate(117.6,116.7)"><circle r="2.1"/><path d="M0,-2.3V2.3M-0.9,-2.3H0.9M-0.9,2.3H0.9" stroke-width="0.8"/></g>
<g transform="translate(111.9,117.7)"><circle r="2.1"/><path d="M0,-2.3V2.3M-0.9,-2.3H0.9M-0.9,2.3H0.9" stroke-width="0.8"/></g>
<g transform="translate(103.1,119.3)"><circle r="2.1"/><path d="M0,-2.3V2.3M-0.9,-2.3H0.9M-0.9,2.3H0.9" stroke-width="0.8"/></g>
<g transform="translate(132.3,40.3)"><circle r="2.1"/><path d="M0,-2.7V2.7M-0.9,-2.7H0.9M-0.9,2.7H0.9" stroke-width="0.8"/></g>
<g transform="translate(132.9,46.2)"><circle r="2.1"/><path d="M0,-2.7V2.7M-0.9,-2.7H0.9M-0.9,2.7H0.9" stroke-width="0.8"/></g>
<g transform="translate(128.4,52.9)"><circle r="2.1"/><path d="M0,-3.1V3.1M-0.9,-3.1H0.9M-0.9,3.1H0.9" stroke-width="0.8"/></g>
<g transform="translate(127.2,57.0)"><circle r="2.1"/><path d="M0,-3.1V3.1M-0.9,-3.1H0.9M-0.9,3.1H0.9" stroke-width="0.8"/></g>
<g transform="translate(141.4,52.7)"><circle r="2.1"/><path d="M0,-3.6V3.6M-0.9,-3.6H0.9M-0.9,3.6H0.9" stroke-width="0.8"/></g>
<g transform="translate(134.4,75.8)"><circle r="2.1"/><path d="M0,-2.3V2.3M-0.9,-2.3H0.9M-0.9,2.3H0.9" stroke-width="0.8"/></g>
<g transform="translate(146.6,34.1)"><circle r="2.1"/><path d="M0,-5.6V5.6M-0.9,-5.6H0.9M-0.9,5.6H0.9" stroke-width="0.8"/></g>
<g transform="translate(148.4,36.9)"><circle r="2.1"/><path d="M0,-3.1V3.1M-0.9,-3.1H0.9M-0.9,3.1H0.9" stroke-width="0.8"/></g>
<g transform="translate(149.7,40.5)"><circle r="2.1"/><path d="M0,-3.1V3.1M-0.9,-3.1H0.9M-0.9,3.1H0.9" stroke-width="0.8"/></g>
<g transform="translate(146.3,44.1)"><circle r="2.1"/><path d="M0,-3.1V3.1M-0.9,-3.1H0.9M-0.9,3.1H0.9" stroke-width="0.8"/></g>
<g transform="translate(150.7,47.9)"><circle r="2.1"/><path d="M0,-3.1V3.1M-0.9,-3.1H0.9M-0.9,3.1H0.9" stroke-width="0.8"/></g>
<g transform="translate(145.8,55.0)"><circle r="2.1"/><path d="M0,-3.1V3.1M-0.9,-3.1H0.9M-0.9,3.1H0.9" stroke-width="0.8"/></g>
<g transform="translate(147.8,50.8)"><circle r="2.1"/><path d="M0,-3.1V3.1M-0.9,-3.1H0.9M-0.9,3.1H0.9" stroke-width="0.8"/></g>
<g transform="translate(157.1,44.1)"><circle r="2.1"/><path d="M0,-3.1V3.1M-0.9,-3.1H0.9M-0.9,3.1H0.9" stroke-width="0.8"/></g>
<g transform="translate(156.1,47.2)"><circle r="2.1"/><path d="M0,-3.1V3.1M-0.9,-3.1H0.9M-0.9,3.1H0.9" stroke-width="0.8"/></g>
<g transform="translate(159.2,48.8)"><circle r="2.1"/><path d="M0,-3.1V3.1M-0.9,-3.1H0.9M-0.9,3.1H0.9" stroke-width="0.8"/></g>
<g transform="translate(159.7,52.1)"><circle r="2.1"/><path d="M0,-3.1V3.1M-0.9,-3.1H0.9M-0.9,3.1H0.9" stroke-width="0.8"/></g>
<g transform="translate(164.4,52.9)"><circle r="2.1"/><path d="M0,-5.1V5.1M-0.9,-5.1H0.9M-0.9,5.1H0.9" stroke-width="0.8"/></g>
<g transform="translate(162.8,56.0)"><circle r="2.1"/><path d="M0,-3.1V3.1M-0.9,-3.1H0.9M-0.9,3.1H0.9" stroke-width="0.8"/></g>
<g transform="translate(167.0,55.8)"><circle r="2.1"/><path d="M0,-3.1V3.1M-0.9,-3.1H0.9M-0.9,3.1H0.9" stroke-width="0.8"/></g>
<g transform="translate(156.6,56.0)"><circle r="2.1"/><path d="M0,-3.1V3.1M-0.9,-3.1H0.9M-0.9,3.1H0.9" stroke-width="0.8"/></g>
<g transform="translate(160.8,59.6)"><circle r="2.1"/><path d="M0,-3.1V3.1M-0.9,-3.1H0.9M-0.9,3.1H0.9" stroke-width="0.8"/></g>
<g transform="translate(164.9,60.1)"><circle r="2.1"/><path d="M0,-3.1V3.1M-0.9,-3.1H0.9M-0.9,3.1H0.9" stroke-width="0.8"/></g>
<g transform="translate(167.5,66.5)"><circle r="2.1"/><path d="M0,-3.1V3.1M-0.9,-3.1H0.9M-0.9,3.1H0.9" stroke-width="0.8"/></g>
<g transform="translate(166.0,70.7)"><circle r="2.1"/><path d="M0,-3.1V3.1M-0.9,-3.1H0.9M-0.9,3.1H0.9" stroke-width="0.8"/></g>
<g transform="translate(267.8,111.4)"><circle r="2.1"/><path d="M0,-2.3V2.3M-0.9,-2.3H0.9M-0.9,2.3H0.9" stroke-width="0.8"/></g>
<g transform="translate(34.9,120.0)"><circle r="2.1"/><path d="M0,-4.1V4.1M-0.9,-4.1H0.9M-0.9,4.1H0.9" stroke-width="0.8"/></g>
<g transform="translate(38.4,120.0)"><circle r="2.1"/><path d="M0,-4.1V4.1M-0.9,-4.1H0.9M-0.9,4.1H0.9" stroke-width="0.8"/></g>
<g transform="translate(35.3,124.1)"><circle r="2.1"/><path d="M0,-3.1V3.1M-0.9,-3.1H0.9M-0.9,3.1H0.9" stroke-width="0.8"/></g>
<g transform="translate(37.4,127.7)"><circle r="2.1"/><path d="M0,-3.1V3.1M-0.9,-3.1H0.9M-0.9,3.1H0.9" stroke-width="0.8"/></g>
<g transform="translate(34.8,127.2)"><circle r="2.1"/><path d="M0,-3.1V3.1M-0.9,-3.1H0.9M-0.9,3.1H0.9" stroke-width="0.8"/></g>
<g transform="translate(37.9,132.9)"><circle r="2.1"/><path d="M0,-3.1V3.1M-0.9,-3.1H0.9M-0.9,3.1H0.9" stroke-width="0.8"/></g>
<g transform="translate(268.3,131.4)"><circle r="2.1"/><path d="M0,-3.1V3.1M-0.9,-3.1H0.9M-0.9,3.1H0.9" stroke-width="0.8"/></g>
<g transform="translate(251.7,128.3)"><circle r="2.1"/><path d="M0,-4.1V4.1M-0.9,-4.1H0.9M-0.9,4.1H0.9" stroke-width="0.8"/></g>
<g transform="translate(254.3,131.9)"><circle r="2.1"/><path d="M0,-3.1V3.1M-0.9,-3.1H0.9M-0.9,3.1H0.9" stroke-width="0.8"/></g>
<g transform="translate(255.4,137.0)"><circle r="2.1"/><path d="M0,-3.1V3.1M-0.9,-3.1H0.9M-0.9,3.1H0.9" stroke-width="0.8"/></g>
<g transform="translate(251.2,141.7)"><circle r="2.1"/><path d="M0,-3.1V3.1M-0.9,-3.1H0.9M-0.9,3.1H0.9" stroke-width="0.8"/></g>
<g transform="translate(259.0,134.0)"><circle r="2.1"/><path d="M0,-3.1V3.1M-0.9,-3.1H0.9M-0.9,3.1H0.9" stroke-width="0.8"/></g>
<g transform="translate(263.1,132.9)"><circle r="2.1"/><path d="M0,-3.1V3.1M-0.9,-3.1H0.9M-0.9,3.1H0.9" stroke-width="0.8"/></g>
<g transform="translate(260.0,137.0)"><circle r="2.1"/><path d="M0,-3.1V3.1M-0.9,-3.1H0.9M-0.9,3.1H0.9" stroke-width="0.8"/></g>
<g transform="translate(264.1,136.5)"><circle r="2.1"/><path d="M0,-3.1V3.1M-0.9,-3.1H0.9M-0.9,3.1H0.9" stroke-width="0.8"/></g>
<g transform="translate(266.2,135.0)"><circle r="2.1"/><path d="M0,-3.1V3.1M-0.9,-3.1H0.9M-0.9,3.1H0.9" stroke-width="0.8"/></g>
<g transform="translate(123.5,102.9)"><circle r="2.1" fill="none"/><path d="M0,-3.0V3.0M-0.9,-3.0H0.9M-0.9,3.0H0.9" stroke-width="0.8"/></g>
<g transform="translate(128.0,106.4)"><circle r="2.1" fill="none"/><path d="M0,-3.2V3.2M-0.9,-3.2H0.9M-0.9,3.2H0.9" stroke-width="0.8"/></g>
<g transform="translate(118.6,108.3)"><circle r="2.1" fill="none"/><path d="M0,-3.5V3.5M-0.9,-3.5H0.9M-0.9,3.5H0.9" stroke-width="0.8"/></g>
<g transform="translate(119.8,107.0)"><circle r="2.1" fill="none"/><path d="M0,-3.3V3.3M-0.9,-3.3H0.9M-0.9,3.3H0.9" stroke-width="0.8"/></g>
<g transform="translate(120.8,107.2)"><circle r="2.1"/><path d="M0,-2.4V2.4M-0.9,-2.4H0.9M-0.9,2.4H0.9" stroke-width="0.8"/></g>
<g transform="translate(122.2,106.8)"><circle r="2.1" fill="none"/><path d="M0,-3.0V3.0M-0.9,-3.0H0.9M-0.9,3.0H0.9" stroke-width="0.8"/></g>
<g transform="translate(125.7,102.3)"><circle r="2.1" fill="none"/><path d="M0,-3.3V3.3M-0.9,-3.3H0.9M-0.9,3.3H0.9" stroke-width="0.8"/></g>
<g transform="translate(124.6,105.9)"><circle r="2.1" fill="none"/><path d="M0,-3.6V3.6M-0.9,-3.6H0.9M-0.9,3.6H0.9" stroke-width="0.8"/></g>
<g transform="translate(122.8,107.7)"><circle r="2.1" fill="none"/><path d="M0,-2.4V2.4M-0.9,-2.4H0.9M-0.9,2.4H0.9" stroke-width="0.8"/></g>
<g transform="translate(124.7,103.3)"><circle r="2.1" fill="none"/><path d="M0,-3.7V3.7M-0.9,-3.7H0.9M-0.9,3.7H0.9" stroke-width="0.8"/></g>
<g transform="translate(117.4,112.9)"><circle r="2.1" fill="none"/><path d="M0,-3.0V3.0M-0.9,-3.0H0.9M-0.9,3.0H0.9" stroke-width="0.8"/></g>
<g transform="translate(125.2,106.7)"><circle r="2.1"/><path d="M0,-3.5V3.5M-0.9,-3.5H0.9M-0.9,3.5H0.9" stroke-width="0.8"/></g>
<g transform="translate(117.5,112.5)"><circle r="2.1"/><path d="M0,-3.4V3.4M-0.9,-3.4H0.9M-0.9,3.4H0.9" stroke-width="0.8"/></g>
<g transform="translate(121.7,106.8)"><circle r="2.1"/><path d="M0,-3.5V3.5M-0.9,-3.5H0.9M-0.9,3.5H0.9" stroke-width="0.8"/></g>
<g transform="translate(126.6,104.6)"><circle r="2.1"/><path d="M0,-3.4V3.4M-0.9,-3.4H0.9M-0.9,3.4H0.9" stroke-width="0.8"/></g>
<g transform="translate(129.2,105.1)"><circle r="2.1"/><path d="M0,-2.6V2.6M-0.9,-2.6H0.9M-0.9,2.6H0.9" stroke-width="0.8"/></g>
<g transform="translate(134.7,99.4)"><circle r="2.1"/><path d="M0,-3.6V3.6M-0.9,-3.6H0.9M-0.9,3.6H0.9" stroke-width="0.8"/></g>
<g transform="translate(124.8,102.6)"><circle r="2.1" fill="none"/><path d="M0,-2.5V2.5M-0.9,-2.5H0.9M-0.9,2.5H0.9" stroke-width="0.8"/></g>
<g transform="translate(120.8,110.5)"><circle r="2.1"/><path d="M0,-2.8V2.8M-0.9,-2.8H0.9M-0.9,2.8H0.9" stroke-width="0.8"/></g>
<g transform="translate(119.2,109.1)"><circle r="2.1" fill="none"/><path d="M0,-2.7V2.7M-0.9,-2.7H0.9M-0.9,2.7H0.9" stroke-width="0.8"/></g>
<g transform="translate(121.8,107.1)"><circle r="2.1" fill="none"/><path d="M0,-3.0V3.0M-0.9,-3.0H0.9M-0.9,3.0H0.9" stroke-width="0.8"/></g>
<g transform="translate(132.8,103.1)"><circle r="2.1" fill="none"/><path d="M0,-3.7V3.7M-0.9,-3.7H0.9M-0.9,3.7H0.9" stroke-width="0.8"/></g>
<g transform="translate(135.2,98.4)"><circle r="2.1"/><path d="M0,-4.2V4.2M-0.9,-4.2H0.9M-0.9,4.2H0.9" stroke-width="0.8"/></g>
<g transform="translate(145.5,81.8)"><circle r="2.1"/><path d="M0,-3.1V3.1M-0.9,-3.1H0.9M-0.9,3.1H0.9" stroke-width="0.8"/></g>
<g transform="translate(132.4,98.0)"><circle r="2.1"/><path d="M0,-3.7V3.7M-0.9,-3.7H0.9M-0.9,3.7H0.9" stroke-width="0.8"/></g>
<g transform="translate(141.7,84.8)"><circle r="2.1" fill="none"/><path d="M0,-2.7V2.7M-0.9,-2.7H0.9M-0.9,2.7H0.9" stroke-width="0.8"/></g>
<g transform="translate(132.2,100.7)"><circle r="2.1" fill="none"/><path d="M0,-4.0V4.0M-0.9,-4.0H0.9M-0.9,4.0H0.9" stroke-width="0.8"/></g>
<g transform="translate(135.6,93.8)"><circle r="2.1"/><path d="M0,-2.3V2.3M-0.9,-2.3H0.9M-0.9,2.3H0.9" stroke-width="0.8"/></g>
<g transform="translate(137.9,92.4)"><circle r="2.1" fill="none"/><path d="M0,-3.0V3.0M-0.9,-3.0H0.9M-0.9,3.0H0.9" stroke-width="0.8"/></g>
<g transform="translate(131.2,100.4)"><circle r="2.1" fill="none"/><path d="M0,-4.3V4.3M-0.9,-4.3H0.9M-0.9,4.3H0.9" stroke-width="0.8"/></g>
<g transform="translate(140.1,87.3)"><circle r="2.1"/><path d="M0,-2.4V2.4M-0.9,-2.4H0.9M-0.9,2.4H0.9" stroke-width="0.8"/></g>
<g transform="translate(142.8,79.1)"><circle r="2.1" fill="none"/><path d="M0,-2.3V2.3M-0.9,-2.3H0.9M-0.9,2.3H0.9" stroke-width="0.8"/></g>
<g transform="translate(137.6,89.4)"><circle r="2.1"/><path d="M0,-4.3V4.3M-0.9,-4.3H0.9M-0.9,4.3H0.9" stroke-width="0.8"/></g>
<g transform="translate(138.4,85.6)"><circle r="2.1" fill="none"/><path d="M0,-3.8V3.8M-0.9,-3.8H0.9M-0.9,3.8H0.9" stroke-width="0.8"/></g>
<g transform="translate(143.1,85.3)"><circle r="2.1" fill="none"/><path d="M0,-3.7V3.7M-0.9,-3.7H0.9M-0.9,3.7H0.9" stroke-width="0.8"/></g>
<g transform="translate(141.4,87.0)"><circle r="2.1" fill="none"/><path d="M0,-4.0V4.0M-0.9,-4.0H0.9M-0.9,4.0H0.9" stroke-width="0.8"/></g>
<g transform="translate(138.6,91.0)"><circle r="2.1"/><path d="M0,-3.5V3.5M-0.9,-3.5H0.9M-0.9,3.5H0.9" stroke-width="0.8"/></g>
<g transform="translate(142.4,88.6)"><circle r="2.1" fill="none"/><path d="M0,-3.8V3.8M-0.9,-3.8H0.9M-0.9,3.8H0.9" stroke-width="0.8"/></g>
<g transform="translate(140.2,86.1)"><circle r="2.1"/><path d="M0,-4.0V4.0M-0.9,-4.0H0.9M-0.9,4.0H0.9" stroke-width="0.8"/></g>
<g transform="translate(143.1,87.6)"><circle r="2.1"/><path d="M0,-3.3V3.3M-0.9,-3.3H0.9M-0.9,3.3H0.9" stroke-width="0.8"/></g>
<g transform="translate(139.1,87.9)"><circle r="2.1"/><path d="M0,-4.1V4.1M-0.9,-4.1H0.9M-0.9,4.1H0.9" stroke-width="0.8"/></g>
<g transform="translate(130.6,102.0)"><circle r="2.1"/><path d="M0,-2.7V2.7M-0.9,-2.7H0.9M-0.9,2.7H0.9" stroke-width="0.8"/></g>
<g transform="translate(139.5,97.9)"><circle r="2.1" fill="none"/><path d="M0,-2.6V2.6M-0.9,-2.6H0.9M-0.9,2.6H0.9" stroke-width="0.8"/></g>
<g transform="translate(139.5,95.5)"><circle r="2.1" fill="none"/><path d="M0,-2.6V2.6M-0.9,-2.6H0.9M-0.9,2.6H0.9" stroke-width="0.8"/></g>
<g transform="translate(136.0,96.2)"><circle r="2.1" fill="none"/><path d="M0,-2.6V2.6M-0.9,-2.6H0.9M-0.9,2.6H0.9" stroke-width="0.8"/></g>
<g transform="translate(139.6,99.6)"><circle r="2.1" fill="none"/><path d="M0,-2.6V2.6M-0.9,-2.6H0.9M-0.9,2.6H0.9" stroke-width="0.8"/></g>
<g transform="translate(137.9,95.4)"><circle r="2.1"/><path d="M0,-2.6V2.6M-0.9,-2.6H0.9M-0.9,2.6H0.9" stroke-width="0.8"/></g>
<g transform="translate(137.5,99.3)"><circle r="2.1" fill="none"/><path d="M0,-2.6V2.6M-0.9,-2.6H0.9M-0.9,2.6H0.9" stroke-width="0.8"/></g>
<g transform="translate(143.0,90.4)"><circle r="2.1"/><path d="M0,-3.0V3.0M-0.9,-3.0H0.9M-0.9,3.0H0.9" stroke-width="0.8"/></g>
<g transform="translate(139.3,81.6)"><circle r="2.1" fill="none"/><path d="M0,-2.8V2.8M-0.9,-2.8H0.9M-0.9,2.8H0.9" stroke-width="0.8"/></g>
<g transform="translate(141.8,84.4)"><circle r="2.1" fill="none"/><path d="M0,-3.1V3.1M-0.9,-3.1H0.9M-0.9,3.1H0.9" stroke-width="0.8"/></g>
<g transform="translate(146.7,83.9)"><circle r="2.1"/><path d="M0,-2.5V2.5M-0.9,-2.5H0.9M-0.9,2.5H0.9" stroke-width="0.8"/></g>
<g transform="translate(145.2,78.5)"><circle r="2.1" fill="none"/><path d="M0,-4.1V4.1M-0.9,-4.1H0.9M-0.9,4.1H0.9" stroke-width="0.8"/></g>
<g transform="translate(137.3,88.3)"><circle r="2.1"/><path d="M0,-2.3V2.3M-0.9,-2.3H0.9M-0.9,2.3H0.9" stroke-width="0.8"/></g>
<g transform="translate(139.4,78.3)"><circle r="2.1"/><path d="M0,-4.4V4.4M-0.9,-4.4H0.9M-0.9,4.4H0.9" stroke-width="0.8"/></g>
<g transform="translate(135.0,78.6)"><circle r="2.1" fill="none"/><path d="M0,-3.9V3.9M-0.9,-3.9H0.9M-0.9,3.9H0.9" stroke-width="0.8"/></g>
<g transform="translate(141.8,86.5)"><circle r="2.1" fill="none"/><path d="M0,-4.3V4.3M-0.9,-4.3H0.9M-0.9,4.3H0.9" stroke-width="0.8"/></g>
<g transform="translate(142.6,80.6)"><circle r="2.1"/><path d="M0,-3.5V3.5M-0.9,-3.5H0.9M-0.9,3.5H0.9" stroke-width="0.8"/></g>
<g transform="translate(133.2,84.1)"><circle r="2.1"/><path d="M0,-4.1V4.1M-0.9,-4.1H0.9M-0.9,4.1H0.9" stroke-width="0.8"/></g>
<g transform="translate(136.8,82.5)"><circle r="2.1" fill="none"/><path d="M0,-4.0V4.0M-0.9,-4.0H0.9M-0.9,4.0H0.9" stroke-width="0.8"/></g>
<g transform="translate(146.6,72.9)"><circle r="2.1" fill="none"/><path d="M0,-4.0V4.0M-0.9,-4.0H0.9M-0.9,4.0H0.9" stroke-width="0.8"/></g>
<g transform="translate(149.9,56.2)"><circle r="2.1" fill="none"/><path d="M0,-5.9V5.9M-0.9,-5.9H0.9M-0.9,5.9H0.9" stroke-width="0.8"/></g>
<g transform="translate(141.0,65.3)"><circle r="2.1" fill="none"/><path d="M0,-4.8V4.8M-0.9,-4.8H0.9M-0.9,4.8H0.9" stroke-width="0.8"/></g>
<g transform="translate(143.8,68.2)"><circle r="2.1" fill="none"/><path d="M0,-5.7V5.7M-0.9,-5.7H0.9M-0.9,5.7H0.9" stroke-width="0.8"/></g>
<g transform="translate(150.4,65.6)"><circle r="2.1"/><path d="M0,-4.9V4.9M-0.9,-4.9H0.9M-0.9,4.9H0.9" stroke-width="0.8"/></g>
<g transform="translate(147.8,74.5)"><circle r="2.1" fill="none"/><path d="M0,-4.8V4.8M-0.9,-4.8H0.9M-0.9,4.8H0.9" stroke-width="0.8"/></g>
<g transform="translate(142.0,76.5)"><circle r="2.1" fill="none"/><path d="M0,-6.0V6.0M-0.9,-6.0H0.9M-0.9,6.0H0.9" stroke-width="0.8"/></g>
<g transform="translate(145.7,73.8)"><circle r="2.1" fill="none"/><path d="M0,-3.7V3.7M-0.9,-3.7H0.9M-0.9,3.7H0.9" stroke-width="0.8"/></g>
<g transform="translate(149.3,62.7)"><circle r="2.1" fill="none"/><path d="M0,-2.9V2.9M-0.9,-2.9H0.9M-0.9,2.9H0.9" stroke-width="0.8"/></g>
<g transform="translate(145.8,73.2)"><circle r="2.1"/><path d="M0,-4.3V4.3M-0.9,-4.3H0.9M-0.9,4.3H0.9" stroke-width="0.8"/></g>
<g transform="translate(148.8,55.6)"><circle r="2.1"/><path d="M0,-5.4V5.4M-0.9,-5.4H0.9M-0.9,5.4H0.9" stroke-width="0.8"/></g>
<g transform="translate(143.4,73.7)"><circle r="2.1"/><path d="M0,-3.1V3.1M-0.9,-3.1H0.9M-0.9,3.1H0.9" stroke-width="0.8"/></g>
<g transform="translate(145.4,72.1)"><circle r="2.1" fill="none"/><path d="M0,-5.5V5.5M-0.9,-5.5H0.9M-0.9,5.5H0.9" stroke-width="0.8"/></g>
<g transform="translate(150.4,66.3)"><circle r="2.1"/><path d="M0,-5.9V5.9M-0.9,-5.9H0.9M-0.9,5.9H0.9" stroke-width="0.8"/></g>
<g transform="translate(142.0,67.2)"><circle r="2.1" fill="none"/><path d="M0,-3.6V3.6M-0.9,-3.6H0.9M-0.9,3.6H0.9" stroke-width="0.8"/></g>
<g transform="translate(146.8,67.1)"><circle r="2.1" fill="none"/><path d="M0,-5.6V5.6M-0.9,-5.6H0.9M-0.9,5.6H0.9" stroke-width="0.8"/></g>
<g transform="translate(143.1,63.5)"><circle r="2.1" fill="none"/><path d="M0,-5.6V5.6M-0.9,-5.6H0.9M-0.9,5.6H0.9" stroke-width="0.8"/></g>
<g transform="translate(141.9,75.3)"><circle r="2.1" fill="none"/><path d="M0,-6.0V6.0M-0.9,-6.0H0.9M-0.9,6.0H0.9" stroke-width="0.8"/></g>
<g transform="translate(146.1,59.0)"><circle r="2.1" fill="none"/><path d="M0,-4.5V4.5M-0.9,-4.5H0.9M-0.9,4.5H0.9" stroke-width="0.8"/></g>
<g transform="translate(146.5,54.7)"><circle r="2.1" fill="none"/><path d="M0,-6.0V6.0M-0.9,-6.0H0.9M-0.9,6.0H0.9" stroke-width="0.8"/></g>
<g transform="translate(144.1,74.0)"><circle r="2.1" fill="none"/><path d="M0,-4.6V4.6M-0.9,-4.6H0.9M-0.9,4.6H0.9" stroke-width="0.8"/></g>
<g transform="translate(147.4,55.6)"><circle r="2.1" fill="none"/><path d="M0,-4.5V4.5M-0.9,-4.5H0.9M-0.9,4.5H0.9" stroke-width="0.8"/></g>
<g transform="translate(151.4,41.6)"><circle r="2.1"/><path d="M0,-4.0V4.0M-0.9,-4.0H0.9M-0.9,4.0H0.9" stroke-width="0.8"/></g>
<g transform="translate(147.5,44.4)"><circle r="2.1" fill="none"/><path d="M0,-5.0V5.0M-0.9,-5.0H0.9M-0.9,5.0H0.9" stroke-width="0.8"/></g>
<g transform="translate(147.1,40.3)"><circle r="2.1" fill="none"/><path d="M0,-4.5V4.5M-0.9,-4.5H0.9M-0.9,4.5H0.9" stroke-width="0.8"/></g>
<g transform="translate(148.5,39.2)"><circle r="2.1"/><path d="M0,-4.9V4.9M-0.9,-4.9H0.9M-0.9,4.9H0.9" stroke-width="0.8"/></g>
<g transform="translate(148.6,48.7)"><circle r="2.1" fill="none"/><path d="M0,-3.6V3.6M-0.9,-3.6H0.9M-0.9,3.6H0.9" stroke-width="0.8"/></g>
<g transform="translate(149.2,47.5)"><circle r="2.1" fill="none"/><path d="M0,-2.9V2.9M-0.9,-2.9H0.9M-0.9,2.9H0.9" stroke-width="0.8"/></g>
<g transform="translate(149.5,41.3)"><circle r="2.1" fill="none"/><path d="M0,-3.2V3.2M-0.9,-3.2H0.9M-0.9,3.2H0.9" stroke-width="0.8"/></g>
<g transform="translate(158.9,54.9)"><circle r="2.1" fill="none"/><path d="M0,-4.0V4.0M-0.9,-4.0H0.9M-0.9,4.0H0.9" stroke-width="0.8"/></g>
<g transform="translate(153.9,49.9)"><circle r="2.1" fill="none"/><path d="M0,-4.8V4.8M-0.9,-4.8H0.9M-0.9,4.8H0.9" stroke-width="0.8"/></g>
<g transform="translate(160.5,68.7)"><circle r="2.1" fill="none"/><path d="M0,-4.7V4.7M-0.9,-4.7H0.9M-0.9,4.7H0.9" stroke-width="0.8"/></g>
<g transform="translate(155.2,65.5)"><circle r="2.1" fill="none"/><path d="M0,-5.4V5.4M-0.9,-5.4H0.9M-0.9,5.4H0.9" stroke-width="0.8"/></g>
<g transform="translate(156.7,53.1)"><circle r="2.1"/><path d="M0,-5.8V5.8M-0.9,-5.8H0.9M-0.9,5.8H0.9" stroke-width="0.8"/></g>
<g transform="translate(169.0,69.7)"><circle r="2.1"/><path d="M0,-3.1V3.1M-0.9,-3.1H0.9M-0.9,3.1H0.9" stroke-width="0.8"/></g>
<g transform="translate(152.7,68.1)"><circle r="2.1" fill="none"/><path d="M0,-4.1V4.1M-0.9,-4.1H0.9M-0.9,4.1H0.9" stroke-width="0.8"/></g>
<g transform="translate(153.3,55.7)"><circle r="2.1"/><path d="M0,-5.0V5.0M-0.9,-5.0H0.9M-0.9,5.0H0.9" stroke-width="0.8"/></g>
<g transform="translate(154.6,63.8)"><circle r="2.1" fill="none"/><path d="M0,-5.8V5.8M-0.9,-5.8H0.9M-0.9,5.8H0.9" stroke-width="0.8"/></g>
<g transform="translate(153.1,58.7)"><circle r="2.1" fill="none"/><path d="M0,-5.3V5.3M-0.9,-5.3H0.9M-0.9,5.3H0.9" stroke-width="0.8"/></g>
<g transform="translate(151.7,60.0)"><circle r="2.1" fill="none"/><path d="M0,-4.4V4.4M-0.9,-4.4H0.9M-0.9,4.4H0.9" stroke-width="0.8"/></g>
<g transform="translate(153.6,49.4)"><circle r="2.1" fill="none"/><path d="M0,-3.3V3.3M-0.9,-3.3H0.9M-0.9,3.3H0.9" stroke-width="0.8"/></g>
<g transform="translate(168.8,70.9)"><circle r="2.1"/><path d="M0,-2.9V2.9M-0.9,-2.9H0.9M-0.9,2.9H0.9" stroke-width="0.8"/></g>
<g transform="translate(168.1,57.4)"><circle r="2.1" fill="none"/><path d="M0,-5.3V5.3M-0.9,-5.3H0.9M-0.9,5.3H0.9" stroke-width="0.8"/></g>
<g transform="translate(159.4,58.9)"><circle r="2.1" fill="none"/><path d="M0,-4.1V4.1M-0.9,-4.1H0.9M-0.9,4.1H0.9" stroke-width="0.8"/></g>
<g transform="translate(151.2,64.3)"><circle r="2.1"/><path d="M0,-5.6V5.6M-0.9,-5.6H0.9M-0.9,5.6H0.9" stroke-width="0.8"/></g>
<g transform="translate(159.2,65.4)"><circle r="2.1"/><path d="M0,-4.0V4.0M-0.9,-4.0H0.9M-0.9,4.0H0.9" stroke-width="0.8"/></g>
<g transform="translate(154.0,58.9)"><circle r="2.1" fill="none"/><path d="M0,-2.7V2.7M-0.9,-2.7H0.9M-0.9,2.7H0.9" stroke-width="0.8"/></g>
<g transform="translate(165.4,64.4)"><circle r="2.1" fill="none"/><path d="M0,-5.6V5.6M-0.9,-5.6H0.9M-0.9,5.6H0.9" stroke-width="0.8"/></g>
<g transform="translate(158.3,61.4)"><circle r="2.1" fill="none"/><path d="M0,-4.4V4.4M-0.9,-4.4H0.9M-0.9,4.4H0.9" stroke-width="0.8"/></g>
<g transform="translate(167.4,65.6)"><circle r="2.1" fill="none"/><path d="M0,-5.3V5.3M-0.9,-5.3H0.9M-0.9,5.3H0.9" stroke-width="0.8"/></g>
<g transform="translate(158.3,70.0)"><circle r="2.1" fill="none"/><path d="M0,-5.7V5.7M-0.9,-5.7H0.9M-0.9,5.7H0.9" stroke-width="0.8"/></g>
<g transform="translate(164.8,66.2)"><circle r="2.1" fill="none"/><path d="M0,-4.0V4.0M-0.9,-4.0H0.9M-0.9,4.0H0.9" stroke-width="0.8"/></g>
<g transform="translate(152.3,53.9)"><circle r="2.1"/><path d="M0,-4.2V4.2M-0.9,-4.2H0.9M-0.9,4.2H0.9" stroke-width="0.8"/></g>
<g transform="translate(157.4,62.5)"><circle r="2.1"/><path d="M0,-4.8V4.8M-0.9,-4.8H0.9M-0.9,4.8H0.9" stroke-width="0.8"/></g>
<g transform="translate(168.0,63.3)"><circle r="2.1" fill="none"/><path d="M0,-3.8V3.8M-0.9,-3.8H0.9M-0.9,3.8H0.9" stroke-width="0.8"/></g>
<g transform="translate(161.3,59.5)"><circle r="2.1" fill="none"/><path d="M0,-4.0V4.0M-0.9,-4.0H0.9M-0.9,4.0H0.9" stroke-width="0.8"/></g>
<g transform="translate(162.6,64.3)"><circle r="2.1" fill="none"/><path d="M0,-5.3V5.3M-0.9,-5.3H0.9M-0.9,5.3H0.9" stroke-width="0.8"/></g>
<g transform="translate(151.4,61.8)"><circle r="2.1"/><path d="M0,-5.2V5.2M-0.9,-5.2H0.9M-0.9,5.2H0.9" stroke-width="0.8"/></g>
<g transform="translate(154.5,54.9)"><circle r="2.1"/><path d="M0,-2.9V2.9M-0.9,-2.9H0.9M-0.9,2.9H0.9" stroke-width="0.8"/></g>
<g transform="translate(167.3,60.0)"><circle r="2.1" fill="none"/><path d="M0,-4.4V4.4M-0.9,-4.4H0.9M-0.9,4.4H0.9" stroke-width="0.8"/></g>
<g transform="translate(161.2,72.9)"><circle r="2.1" fill="none"/><path d="M0,-4.8V4.8M-0.9,-4.8H0.9M-0.9,4.8H0.9" stroke-width="0.8"/></g>
<g transform="translate(152.4,61.3)"><circle r="2.1"/><path d="M0,-5.3V5.3M-0.9,-5.3H0.9M-0.9,5.3H0.9" stroke-width="0.8"/></g>
<g transform="translate(159.5,48.9)"><circle r="2.1" fill="none"/><path d="M0,-4.3V4.3M-0.9,-4.3H0.9M-0.9,4.3H0.9" stroke-width="0.8"/></g>
<g transform="translate(152.1,71.4)"><circle r="2.1" fill="none"/><path d="M0,-4.1V4.1M-0.9,-4.1H0.9M-0.9,4.1H0.9" stroke-width="0.8"/></g>
<g transform="translate(161.8,54.6)"><circle r="2.1" fill="none"/><path d="M0,-3.6V3.6M-0.9,-3.6H0.9M-0.9,3.6H0.9" stroke-width="0.8"/></g>
<g transform="translate(161.1,52.2)"><circle r="2.1"/><path d="M0,-5.1V5.1M-0.9,-5.1H0.9M-0.9,5.1H0.9" stroke-width="0.8"/></g>
<g transform="translate(164.6,55.3)"><circle r="2.1" fill="none"/><path d="M0,-5.7V5.7M-0.9,-5.7H0.9M-0.9,5.7H0.9" stroke-width="0.8"/></g>
<g transform="translate(151.9,72.7)"><circle r="2.1"/><path d="M0,-5.9V5.9M-0.9,-5.9H0.9M-0.9,5.9H0.9" stroke-width="0.8"/></g>
<g transform="translate(167.3,56.5)"><circle r="2.1" fill="none"/><path d="M0,-4.3V4.3M-0.9,-4.3H0.9M-0.9,4.3H0.9" stroke-width="0.8"/></g>
<g transform="translate(155.4,59.2)"><circle r="2.1" fill="none"/><path d="M0,-5.9V5.9M-0.9,-5.9H0.9M-0.9,5.9H0.9" stroke-width="0.8"/></g>
<g transform="translate(159.4,72.4)"><circle r="2.1" fill="none"/><path d="M0,-5.5V5.5M-0.9,-5.5H0.9M-0.9,5.5H0.9" stroke-width="0.8"/></g>
<g transform="translate(153.1,62.1)"><circle r="2.1"/><path d="M0,-4.2V4.2M-0.9,-4.2H0.9M-0.9,4.2H0.9" stroke-width="0.8"/></g>
<g transform="translate(151.9,59.3)"><circle r="2.1" fill="none"/><path d="M0,-3.0V3.0M-0.9,-3.0H0.9M-0.9,3.0H0.9" stroke-width="0.8"/></g>
<g transform="translate(163.0,57.2)"><circle r="2.1" fill="none"/><path d="M0,-3.5V3.5M-0.9,-3.5H0.9M-0.9,3.5H0.9" stroke-width="0.8"/></g>
<g transform="translate(158.6,66.6)"><circle r="2.1" fill="none"/><path d="M0,-4.5V4.5M-0.9,-4.5H0.9M-0.9,4.5H0.9" stroke-width="0.8"/></g>
<g transform="translate(168.1,65.3)"><circle r="2.1"/><path d="M0,-3.4V3.4M-0.9,-3.4H0.9M-0.9,3.4H0.9" stroke-width="0.8"/></g>
<g transform="translate(167.1,66.7)"><circle r="2.1" fill="none"/><path d="M0,-4.8V4.8M-0.9,-4.8H0.9M-0.9,4.8H0.9" stroke-width="0.8"/></g>
<g transform="translate(155.9,63.9)"><circle r="2.1" fill="none"/><path d="M0,-4.6V4.6M-0.9,-4.6H0.9M-0.9,4.6H0.9" stroke-width="0.8"/></g>
<g transform="translate(162.4,65.8)"><circle r="2.1"/><path d="M0,-3.3V3.3M-0.9,-3.3H0.9M-0.9,3.3H0.9" stroke-width="0.8"/></g>
<g transform="translate(255.9,148.1)"><circle r="2.1"/><path d="M0,-4.5V4.5M-0.9,-4.5H0.9M-0.9,4.5H0.9" stroke-width="0.8"/></g>
<g transform="translate(250.4,134.0)"><circle r="2.1" fill="none"/><path d="M0,-3.4V3.4M-0.9,-3.4H0.9M-0.9,3.4H0.9" stroke-width="0.8"/></g>
<g transform="translate(250.6,139.9)"><circle r="2.1"/><path d="M0,-2.5V2.5M-0.9,-2.5H0.9M-0.9,2.5H0.9" stroke-width="0.8"/></g>
<g transform="translate(254.1,140.1)"><circle r="2.1" fill="none"/><path d="M0,-3.9V3.9M-0.9,-3.9H0.9M-0.9,3.9H0.9" stroke-width="0.8"/></g>
<g transform="translate(252.9,132.6)"><circle r="2.1" fill="none"/><path d="M0,-3.2V3.2M-0.9,-3.2H0.9M-0.9,3.2H0.9" stroke-width="0.8"/></g>
<g transform="translate(255.0,129.6)"><circle r="2.1" fill="none"/><path d="M0,-2.6V2.6M-0.9,-2.6H0.9M-0.9,2.6H0.9" stroke-width="0.8"/></g>
<g transform="translate(253.7,144.9)"><circle r="2.1" fill="none"/><path d="M0,-2.8V2.8M-0.9,-2.8H0.9M-0.9,2.8H0.9" stroke-width="0.8"/></g>
<g transform="translate(251.5,145.8)"><circle r="2.1" fill="none"/><path d="M0,-3.2V3.2M-0.9,-3.2H0.9M-0.9,3.2H0.9" stroke-width="0.8"/></g>
<g transform="translate(255.9,135.2)"><circle r="2.1" fill="none"/><path d="M0,-3.7V3.7M-0.9,-3.7H0.9M-0.9,3.7H0.9" stroke-width="0.8"/></g>
<g transform="translate(255.5,137.4)"><circle r="2.1"/><path d="M0,-3.2V3.2M-0.9,-3.2H0.9M-0.9,3.2H0.9" stroke-width="0.8"/></g>
<g transform="translate(255.3,129.7)"><circle r="2.1" fill="none"/><path d="M0,-2.5V2.5M-0.9,-2.5H0.9M-0.9,2.5H0.9" stroke-width="0.8"/></g>
<g transform="translate(260.9,142.0)"><circle r="2.1" fill="none"/><path d="M0,-3.0V3.0M-0.9,-3.0H0.9M-0.9,3.0H0.9" stroke-width="0.8"/></g>
<g transform="translate(258.0,134.4)"><circle r="2.1"/><path d="M0,-4.0V4.0M-0.9,-4.0H0.9M-0.9,4.0H0.9" stroke-width="0.8"/></g>
<g transform="translate(259.6,142.6)"><circle r="2.1"/><path d="M0,-4.0V4.0M-0.9,-4.0H0.9M-0.9,4.0H0.9" stroke-width="0.8"/></g>
<g transform="translate(258.5,136.7)"><circle r="2.1" fill="none"/><path d="M0,-4.1V4.1M-0.9,-4.1H0.9M-0.9,4.1H0.9" stroke-width="0.8"/></g>
<g transform="translate(258.3,142.3)"><circle r="2.1" fill="none"/><path d="M0,-3.7V3.7M-0.9,-3.7H0.9M-0.9,3.7H0.9" stroke-width="0.8"/></g>
<g transform="translate(264.1,145.6)"><circle r="2.1" fill="none"/><path d="M0,-3.4V3.4M-0.9,-3.4H0.9M-0.9,3.4H0.9" stroke-width="0.8"/></g>
<g transform="translate(259.6,136.1)"><circle r="2.1" fill="none"/><path d="M0,-3.3V3.3M-0.9,-3.3H0.9M-0.9,3.3H0.9" stroke-width="0.8"/></g>
<g transform="translate(263.8,135.0)"><circle r="2.1" fill="none"/><path d="M0,-3.2V3.2M-0.9,-3.2H0.9M-0.9,3.2H0.9" stroke-width="0.8"/></g>
<g transform="translate(260.0,137.3)"><circle r="2.1"/><path d="M0,-3.3V3.3M-0.9,-3.3H0.9M-0.9,3.3H0.9" stroke-width="0.8"/></g>
<g transform="translate(261.4,143.8)"><circle r="2.1" fill="none"/><path d="M0,-3.7V3.7M-0.9,-3.7H0.9M-0.9,3.7H0.9" stroke-width="0.8"/></g>
<g transform="translate(261.4,133.8)"><circle r="2.1" fill="none"/><path d="M0,-4.2V4.2M-0.9,-4.2H0.9M-0.9,4.2H0.9" stroke-width="0.8"/></g>
<g transform="translate(259.5,131.4)"><circle r="2.1" fill="none"/><path d="M0,-3.6V3.6M-0.9,-3.6H0.9M-0.9,3.6H0.9" stroke-width="0.8"/></g>
<g transform="translate(34.7,150.7)"><circle r="2.1" fill="none"/><path d="M0,-3.9V3.9M-0.9,-3.9H0.9M-0.9,3.9H0.9" stroke-width="0.8"/></g>
<g transform="translate(264.6,146.5)"><circle r="2.1"/><path d="M0,-4.3V4.3M-0.9,-4.3H0.9M-0.9,4.3H0.9" stroke-width="0.8"/></g>
<g transform="translate(264.8,148.4)"><circle r="2.1"/><path d="M0,-4.5V4.5M-0.9,-4.5H0.9M-0.9,4.5H0.9" stroke-width="0.8"/></g>
<g transform="translate(35.3,142.4)"><circle r="2.1" fill="none"/><path d="M0,-4.2V4.2M-0.9,-4.2H0.9M-0.9,4.2H0.9" stroke-width="0.8"/></g>
<g transform="translate(266.5,143.2)"><circle r="2.1" fill="none"/><path d="M0,-4.2V4.2M-0.9,-4.2H0.9M-0.9,4.2H0.9" stroke-width="0.8"/></g>
<g transform="translate(36.6,144.9)"><circle r="2.1" fill="none"/><path d="M0,-3.1V3.1M-0.9,-3.1H0.9M-0.9,3.1H0.9" stroke-width="0.8"/></g>
<g transform="translate(35.7,145.9)"><circle r="2.1" fill="none"/><path d="M0,-3.6V3.6M-0.9,-3.6H0.9M-0.9,3.6H0.9" stroke-width="0.8"/></g>
<g transform="translate(36.1,150.1)"><circle r="2.1" fill="none"/><path d="M0,-3.3V3.3M-0.9,-3.3H0.9M-0.9,3.3H0.9" stroke-width="0.8"/></g>
<g transform="translate(35.7,149.5)"><circle r="2.1" fill="none"/><path d="M0,-4.3V4.3M-0.9,-4.3H0.9M-0.9,4.3H0.9" stroke-width="0.8"/></g>
<g transform="translate(37.9,150.6)"><circle r="2.1" fill="none"/><path d="M0,-3.9V3.9M-0.9,-3.9H0.9M-0.9,3.9H0.9" stroke-width="0.8"/></g>
<g transform="translate(37.3,132.0)"><circle r="2.1" fill="none"/><path d="M0,-3.4V3.4M-0.9,-3.4H0.9M-0.9,3.4H0.9" stroke-width="0.8"/></g>
<g transform="translate(268.9,131.1)"><circle r="2.1" fill="none"/><path d="M0,-4.8V4.8M-0.9,-4.8H0.9M-0.9,4.8H0.9" stroke-width="0.8"/></g>
<g transform="translate(269.0,123.1)"><circle r="2.1"/><path d="M0,-3.4V3.4M-0.9,-3.4H0.9M-0.9,3.4H0.9" stroke-width="0.8"/></g>
<g transform="translate(38.8,120.9)"><circle r="2.1"/><path d="M0,-3.1V3.1M-0.9,-3.1H0.9M-0.9,3.1H0.9" stroke-width="0.8"/></g>
<g transform="translate(36.9,131.6)"><circle r="2.1"/><path d="M0,-2.7V2.7M-0.9,-2.7H0.9M-0.9,2.7H0.9" stroke-width="0.8"/></g>
<g transform="translate(267.4,111.9)"><circle r="2.1"/><path d="M0,-2.3V2.3M-0.9,-2.3H0.9M-0.9,2.3H0.9" stroke-width="0.8"/></g>
</g>
<path d="M42.9,143.3 L50.7,145.6 L61.0,149.2 L69.3,152.0 L79.6,152.6 L85.8,151.0 L92.0,149.2 L96.5,143.5 L100.5,135.0 L105.7,125.0 L110.5,115.0 L115.7,104.6 L120.8,95.3 L125.0,89.1 L129.1,86.6 L133.2,85.0 L138.6,81.7 L141.7,78.6 L147.0,77.4 L155.0,76.0 L166.2,74.3 L176.5,70.2 L186.8,67.6 L192.0,67.0 L195.3,67.4 L199.5,67.2 L203.6,68.4 L207.2,68.4 L210.8,71.0 L215.0,75.7 L218.1,81.9 L220.7,88.1 L223.4,98.3 L227.6,105.5 L232.7,113.8 L236.9,121.0 L241.9,129.2 L246.0,133.4 L251.2,136.0 L256.0,139.0" fill="none" stroke="#000" stroke-width="2.0" stroke-linejoin="round" stroke-linecap="round"/>
<path d="M36.5,341.0 L39.8,341.6 L50.7,341.6 L58.9,341.4 L66.2,340.4 L73.4,338.5 L79.6,336.3 L83.7,334.9 L87.9,334.4 L92.0,333.2 L95.3,330.8 L99.5,326.7 L103.6,320.5 L107.7,313.3 L110.5,308.9 L115.7,299.6 L120.8,290.3 L126.0,283.1 L130.1,280.0 L133.5,277.4 L138.7,276.4 L149.0,275.6 L159.3,275.3 L169.7,275.3 L180.0,276.0 L188.0,278.0 L196.0,281.0 L202.5,282.5 L207.5,283.0 L213.8,287.0 L220.0,293.8 L225.0,305.0 L230.2,312.2 L235.3,321.5 L240.5,329.8 L244.6,335.0 L247.7,336.5 L256.0,338.5 L268.4,342.0" fill="none" stroke="#000" stroke-width="2.0" stroke-linejoin="round" stroke-linecap="round"/>
<g fill="none" stroke="#111" stroke-width="0.9">
<g transform="translate(40.3,122.2)"><path d="M0,-2.5V2.5"/><circle r="2.2" fill="#000"/></g>
<g transform="translate(48.1,122.2)"><path d="M0,-3.0V3.0"/><circle r="2.2" fill="#000"/></g>
<g transform="translate(86.8,116.5)"><path d="M0,-5.5V5.5"/><circle r="2.2" fill="#000"/></g>
<g transform="translate(87.0,133.3)"><path d="M0,-2.5V2.5"/><circle r="2.2" fill="#000"/></g>
<g transform="translate(35.0,147.0)"><path d="M0,-2.5V2.5"/><circle r="2.2" fill="#000"/></g>
<g transform="translate(36.5,146.5)"><path d="M0,-2.5V2.5"/><circle r="2.2" fill="#000"/></g>
<g transform="translate(58.9,71.0)"><path d="M0,-10.3V10.3"/><circle r="2.2" fill="#000"/></g>
<g transform="translate(103.6,93.3)"><path d="M0,-9.0V9.0"/><circle r="2.2" fill="#000"/></g>
<g transform="translate(95.9,108.4)"><path d="M0,-6.0V6.0"/><circle r="2.2" fill="#000"/></g>
<g transform="translate(99.7,101.7)"><path d="M0,-5.0V5.0"/><circle r="2.2" fill="#000"/></g>
<g transform="translate(105.2,103.8)"><path d="M0,-7.0V7.0"/><circle r="2.2" fill="#000"/></g>
<g transform="translate(101.5,126.5)"><path d="M0,-3.0V3.0"/><circle r="2.2" fill="#000"/></g>
<g transform="translate(103.6,130.7)"><path d="M0,-3.0V3.0"/><circle r="2.2" fill="#000"/></g>
<g transform="translate(86.5,133.0)"><path d="M0,-3.0V3.0"/><circle r="2.2" fill="#000"/></g>
<g transform="translate(163.3,51.9)"><path d="M0,-8.0V8.0"/><circle r="2.2" fill="#000"/></g>
<g transform="translate(167.8,48.2)"><path d="M0,-9.0V9.0"/><circle r="2.2" fill="#000"/></g>
<g transform="translate(170.1,51.9)"><path d="M0,-9.0V9.0"/><circle r="2.2" fill="#000"/></g>
<g transform="translate(143.6,66.4)"><path d="M0,-5.0V5.0"/><circle r="2.2" fill="#000"/></g>
<g transform="translate(142.6,77.8)"><path d="M0,-4.0V4.0"/><circle r="2.2" fill="#000"/></g>
<g transform="translate(136.4,98.4)"><path d="M0,-4.0V4.0"/><circle r="2.2" fill="#000"/></g>
<g transform="translate(199.7,73.1)"><path d="M0,-8.8V8.8"/><circle r="2.2" fill="#000"/></g>
<g transform="translate(198.4,81.4)"><path d="M0,-7.2V7.2"/><circle r="2.2" fill="#000"/></g>
<g transform="translate(209.3,93.2)"><path d="M0,-7.2V7.2"/><circle r="2.2" fill="#000"/></g>
<g transform="translate(236.4,120.5)"><path d="M0,-3.0V3.0"/><circle r="2.2" fill="#000"/></g>
<g transform="translate(234.0,122.9)"><path d="M0,-3.0V3.0"/><circle r="2.2" fill="#000"/></g>
<g transform="translate(231.5,126.2)"><path d="M0,-4.5V4.5"/><circle r="2.2" fill="#000"/></g>
<g transform="translate(235.8,120.4)"><path d="M0,-8.7V8.7"/><circle r="2.2" fill="#000"/></g>
<g transform="translate(232.0,137.3)"><path d="M0,-4.5V4.5"/><circle r="2.2" fill="#000"/></g>
<g transform="translate(239.0,144.5)"><path d="M0,-2.5V2.5"/><circle r="2.2" fill="#000"/></g>
<g transform="translate(246.0,143.9)"><path d="M0,-2.5V2.5"/><circle r="2.2" fill="#000"/></g>
<g transform="translate(251.2,148.4)"><path d="M0,-2.5V2.5"/><circle r="2.2" fill="#000"/></g>
<g transform="translate(256.0,140.0)"><path d="M0,-3.0V3.0"/><circle r="2.2" fill="#000"/></g>
<g transform="translate(259.0,143.0)"><path d="M0,-3.0V3.0"/><circle r="2.2" fill="#000"/></g>
<g transform="translate(263.0,138.0)"><path d="M0,-3.0V3.0"/><circle r="2.2" fill="#000"/></g>
<g transform="translate(255.0,146.0)"><path d="M0,-3.0V3.0"/><circle r="2.2" fill="#000"/></g>
<g transform="translate(266.0,141.0)"><path d="M0,-3.0V3.0"/><circle r="2.2" fill="#000"/></g>
</g>
</svg>
</body></html>
